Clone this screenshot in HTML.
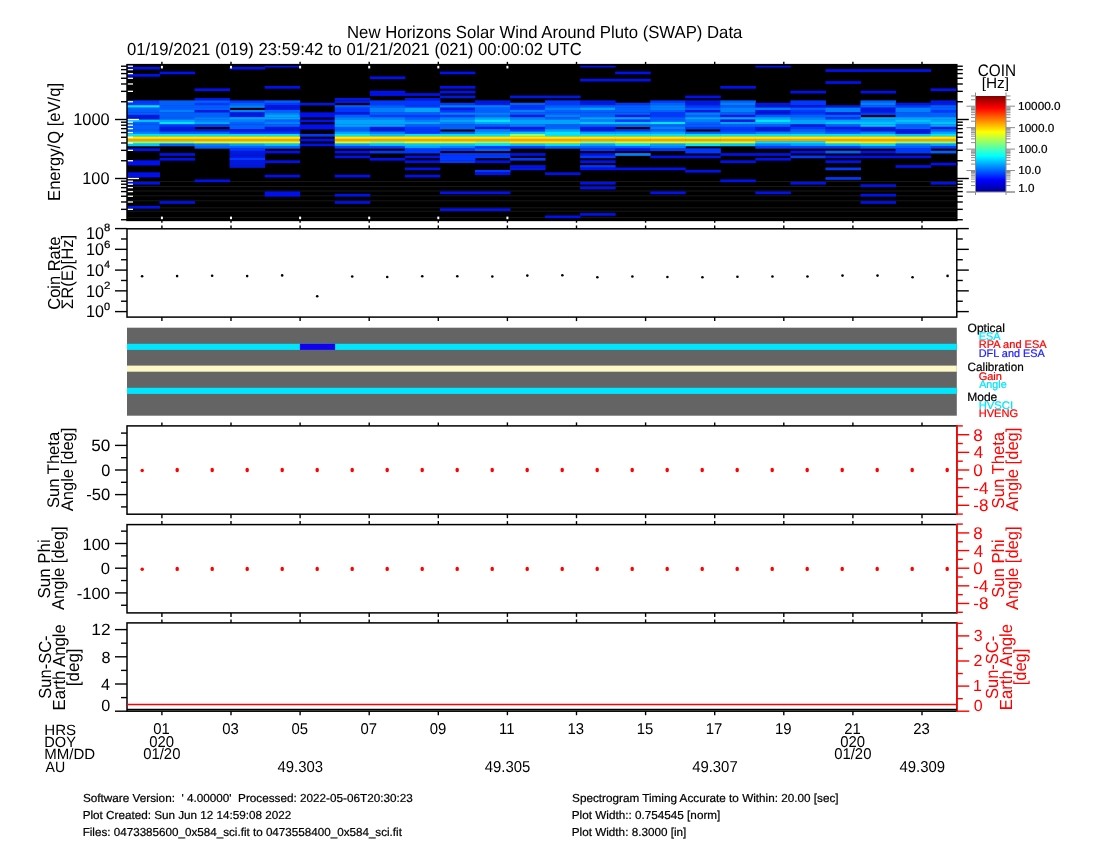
<!DOCTYPE html>
<html><head><meta charset="utf-8"><title>SWAP</title>
<style>html,body{margin:0;padding:0;background:#fff;width:1100px;height:850px;overflow:hidden}
svg{display:block;font-family:"Liberation Sans",sans-serif;will-change:transform;text-rendering:geometricPrecision}</style></head>
<body><svg width="1100" height="850" viewBox="0 0 1100 850">
<rect width="1100" height="850" fill="#fff"/>
<rect x="127.00" y="64.65" width="829.80" height="155.75" fill="#000"/>
<line x1="127.00" y1="181.50" x2="956.80" y2="181.50" stroke="#181818" stroke-width="1.0"/>
<line x1="127.00" y1="186.50" x2="956.80" y2="186.50" stroke="#181818" stroke-width="1.0"/>
<line x1="127.00" y1="191.00" x2="956.80" y2="191.00" stroke="#181818" stroke-width="1.0"/>
<line x1="127.00" y1="195.80" x2="956.80" y2="195.80" stroke="#181818" stroke-width="1.0"/>
<line x1="127.00" y1="200.80" x2="956.80" y2="200.80" stroke="#181818" stroke-width="1.0"/>
<line x1="127.00" y1="207.80" x2="956.80" y2="207.80" stroke="#181818" stroke-width="1.0"/>
<line x1="127.00" y1="211.20" x2="956.80" y2="211.20" stroke="#181818" stroke-width="1.0"/>
<line x1="127.00" y1="217.60" x2="956.80" y2="217.60" stroke="#181818" stroke-width="1.0"/>
<g><rect x="127.00" y="66.80" width="33.00" height="2.698" fill="#0010f0"/><rect x="127.00" y="73.99" width="33.00" height="2.698" fill="#0010f0"/><rect x="127.00" y="100.37" width="33.00" height="2.698" fill="#0038ff"/><rect x="127.00" y="102.77" width="33.00" height="2.698" fill="#0038ff"/><rect x="127.00" y="105.17" width="33.00" height="2.698" fill="#00e4ff"/><rect x="127.00" y="107.56" width="33.00" height="2.698" fill="#0060ff"/><rect x="127.00" y="109.96" width="33.00" height="2.698" fill="#0060ff"/><rect x="127.00" y="112.36" width="33.00" height="2.698" fill="#0060ff"/><rect x="127.00" y="114.76" width="33.00" height="2.698" fill="#0018e0"/><rect x="127.00" y="117.16" width="33.00" height="2.698" fill="#0018e0"/><rect x="127.00" y="119.55" width="33.00" height="2.698" fill="#00c4ff"/><rect x="127.00" y="121.95" width="33.00" height="2.698" fill="#0060ff"/><rect x="127.00" y="124.35" width="33.00" height="2.698" fill="#0060ff"/><rect x="127.00" y="126.75" width="33.00" height="2.698" fill="#0060ff"/><rect x="127.00" y="129.15" width="33.00" height="2.698" fill="#0060ff"/><rect x="127.00" y="131.54" width="33.00" height="2.698" fill="#0080ff"/><rect x="127.00" y="133.94" width="33.00" height="2.698" fill="#00e4ff"/><rect x="127.00" y="136.34" width="33.00" height="2.698" fill="#ffee00"/><rect x="127.00" y="138.74" width="33.00" height="2.698" fill="#ff9c00"/><rect x="127.00" y="141.14" width="33.00" height="2.698" fill="#90ff70"/><rect x="127.00" y="143.53" width="33.00" height="2.698" fill="#00c4ff"/><rect x="127.00" y="148.33" width="33.00" height="2.698" fill="#0010f0"/><rect x="127.00" y="160.32" width="33.00" height="2.698" fill="#0010f0"/><rect x="127.00" y="162.72" width="33.00" height="2.698" fill="#0010f0"/><rect x="127.00" y="172.31" width="33.00" height="2.698" fill="#0010f0"/><rect x="127.00" y="174.71" width="33.00" height="2.698" fill="#0010f0"/><rect x="127.00" y="181.90" width="33.00" height="2.698" fill="#0010f0"/><rect x="127.00" y="205.88" width="33.00" height="2.698" fill="#0010f0"/><rect x="159.50" y="71.59" width="35.55" height="2.698" fill="#0010f0"/><rect x="159.50" y="100.37" width="35.55" height="2.698" fill="#0060ff"/><rect x="159.50" y="102.77" width="35.55" height="2.698" fill="#0060ff"/><rect x="159.50" y="105.17" width="35.55" height="2.698" fill="#0060ff"/><rect x="159.50" y="107.56" width="35.55" height="2.698" fill="#0060ff"/><rect x="159.50" y="109.96" width="35.55" height="2.698" fill="#0080ff"/><rect x="159.50" y="112.36" width="35.55" height="2.698" fill="#0060ff"/><rect x="159.50" y="114.76" width="35.55" height="2.698" fill="#0060ff"/><rect x="159.50" y="117.16" width="35.55" height="2.698" fill="#0060ff"/><rect x="159.50" y="119.55" width="35.55" height="2.698" fill="#00a4ff"/><rect x="159.50" y="121.95" width="35.55" height="2.698" fill="#00e4ff"/><rect x="159.50" y="124.35" width="35.55" height="2.698" fill="#0038ff"/><rect x="159.50" y="126.75" width="35.55" height="2.698" fill="#0018e0"/><rect x="159.50" y="129.15" width="35.55" height="2.698" fill="#0018e0"/><rect x="159.50" y="131.54" width="35.55" height="2.698" fill="#0060ff"/><rect x="159.50" y="133.94" width="35.55" height="2.698" fill="#00e4ff"/><rect x="159.50" y="136.34" width="35.55" height="2.698" fill="#ffee00"/><rect x="159.50" y="138.74" width="35.55" height="2.698" fill="#ff9c00"/><rect x="159.50" y="141.14" width="35.55" height="2.698" fill="#90ff70"/><rect x="159.50" y="143.53" width="35.55" height="2.698" fill="#0060ff"/><rect x="159.50" y="153.13" width="35.55" height="2.698" fill="#0010f0"/><rect x="159.50" y="157.92" width="35.55" height="2.698" fill="#0010f0"/><rect x="159.50" y="201.09" width="35.55" height="2.698" fill="#0010f0"/><rect x="194.55" y="88.38" width="35.55" height="2.698" fill="#0010f0"/><rect x="194.55" y="97.97" width="35.55" height="2.698" fill="#0018e0"/><rect x="194.55" y="100.37" width="35.55" height="2.698" fill="#0060ff"/><rect x="194.55" y="102.77" width="35.55" height="2.698" fill="#0038ff"/><rect x="194.55" y="105.17" width="35.55" height="2.698" fill="#0060ff"/><rect x="194.55" y="107.56" width="35.55" height="2.698" fill="#0060ff"/><rect x="194.55" y="109.96" width="35.55" height="2.698" fill="#0018e0"/><rect x="194.55" y="112.36" width="35.55" height="2.698" fill="#0060ff"/><rect x="194.55" y="114.76" width="35.55" height="2.698" fill="#0060ff"/><rect x="194.55" y="117.16" width="35.55" height="2.698" fill="#0080ff"/><rect x="194.55" y="119.55" width="35.55" height="2.698" fill="#0080ff"/><rect x="194.55" y="121.95" width="35.55" height="2.698" fill="#00a4ff"/><rect x="194.55" y="124.35" width="35.55" height="2.698" fill="#0038ff"/><rect x="194.55" y="129.15" width="35.55" height="2.698" fill="#0018e0"/><rect x="194.55" y="131.54" width="35.55" height="2.698" fill="#0060ff"/><rect x="194.55" y="133.94" width="35.55" height="2.698" fill="#00e4ff"/><rect x="194.55" y="136.34" width="35.55" height="2.698" fill="#ffee00"/><rect x="194.55" y="138.74" width="35.55" height="2.698" fill="#ff9c00"/><rect x="194.55" y="141.14" width="35.55" height="2.698" fill="#d0ff30"/><rect x="194.55" y="143.53" width="35.55" height="2.698" fill="#0080ff"/><rect x="194.55" y="145.93" width="35.55" height="2.698" fill="#0060ff"/><rect x="194.55" y="179.50" width="35.55" height="2.698" fill="#0010f0"/><rect x="229.60" y="66.80" width="35.55" height="2.698" fill="#0010f0"/><rect x="229.60" y="100.37" width="35.55" height="2.698" fill="#0038ff"/><rect x="229.60" y="102.77" width="35.55" height="2.698" fill="#0060ff"/><rect x="229.60" y="105.17" width="35.55" height="2.698" fill="#0080ff"/><rect x="229.60" y="109.96" width="35.55" height="2.698" fill="#0080ff"/><rect x="229.60" y="112.36" width="35.55" height="2.698" fill="#0018e0"/><rect x="229.60" y="114.76" width="35.55" height="2.698" fill="#0018e0"/><rect x="229.60" y="117.16" width="35.55" height="2.698" fill="#00a4ff"/><rect x="229.60" y="119.55" width="35.55" height="2.698" fill="#0080ff"/><rect x="229.60" y="121.95" width="35.55" height="2.698" fill="#0060ff"/><rect x="229.60" y="124.35" width="35.55" height="2.698" fill="#0060ff"/><rect x="229.60" y="126.75" width="35.55" height="2.698" fill="#0060ff"/><rect x="229.60" y="129.15" width="35.55" height="2.698" fill="#0018e0"/><rect x="229.60" y="131.54" width="35.55" height="2.698" fill="#0038ff"/><rect x="229.60" y="133.94" width="35.55" height="2.698" fill="#00e4ff"/><rect x="229.60" y="136.34" width="35.55" height="2.698" fill="#ffee00"/><rect x="229.60" y="138.74" width="35.55" height="2.698" fill="#ff9c00"/><rect x="229.60" y="141.14" width="35.55" height="2.698" fill="#d0ff30"/><rect x="229.60" y="143.53" width="35.55" height="2.698" fill="#00a4ff"/><rect x="229.60" y="145.93" width="35.55" height="2.698" fill="#0060ff"/><rect x="229.60" y="148.33" width="35.55" height="2.698" fill="#0038ff"/><rect x="229.60" y="150.73" width="35.55" height="2.698" fill="#0018e0"/><rect x="229.60" y="153.13" width="35.55" height="2.698" fill="#0018e0"/><rect x="229.60" y="155.52" width="35.55" height="2.698" fill="#0018e0"/><rect x="229.60" y="157.92" width="35.55" height="2.698" fill="#0038ff"/><rect x="229.60" y="160.32" width="35.55" height="2.698" fill="#0018e0"/><rect x="229.60" y="162.72" width="35.55" height="2.698" fill="#0018e0"/><rect x="229.60" y="165.12" width="35.55" height="2.698" fill="#0018e0"/><rect x="264.65" y="65.60" width="35.55" height="1.900" fill="#0010f0"/><rect x="264.65" y="85.98" width="35.55" height="2.698" fill="#0010f0"/><rect x="264.65" y="100.37" width="35.55" height="2.698" fill="#0060ff"/><rect x="264.65" y="102.77" width="35.55" height="2.698" fill="#0038ff"/><rect x="264.65" y="105.17" width="35.55" height="2.698" fill="#0018e0"/><rect x="264.65" y="107.56" width="35.55" height="2.698" fill="#0018e0"/><rect x="264.65" y="109.96" width="35.55" height="2.698" fill="#0060ff"/><rect x="264.65" y="112.36" width="35.55" height="2.698" fill="#0080ff"/><rect x="264.65" y="114.76" width="35.55" height="2.698" fill="#00a4ff"/><rect x="264.65" y="117.16" width="35.55" height="2.698" fill="#00a4ff"/><rect x="264.65" y="119.55" width="35.55" height="2.698" fill="#0060ff"/><rect x="264.65" y="121.95" width="35.55" height="2.698" fill="#0080ff"/><rect x="264.65" y="124.35" width="35.55" height="2.698" fill="#0060ff"/><rect x="264.65" y="126.75" width="35.55" height="2.698" fill="#0018e0"/><rect x="264.65" y="129.15" width="35.55" height="2.698" fill="#0018e0"/><rect x="264.65" y="131.54" width="35.55" height="2.698" fill="#0038ff"/><rect x="264.65" y="133.94" width="35.55" height="2.698" fill="#00e4ff"/><rect x="264.65" y="136.34" width="35.55" height="2.698" fill="#ffee00"/><rect x="264.65" y="138.74" width="35.55" height="2.698" fill="#ff9c00"/><rect x="264.65" y="141.14" width="35.55" height="2.698" fill="#d0ff30"/><rect x="264.65" y="143.53" width="35.55" height="2.698" fill="#00c4ff"/><rect x="264.65" y="145.93" width="35.55" height="2.698" fill="#0060ff"/><rect x="264.65" y="150.73" width="35.55" height="2.698" fill="#0010f0"/><rect x="264.65" y="160.32" width="35.55" height="2.698" fill="#0010f0"/><rect x="264.65" y="174.71" width="35.55" height="2.698" fill="#0010f0"/><rect x="264.65" y="191.49" width="35.55" height="2.698" fill="#0010f0"/><rect x="264.65" y="193.89" width="35.55" height="2.698" fill="#0010f0"/><rect x="299.70" y="102.77" width="35.55" height="2.698" fill="#0018e0"/><rect x="299.70" y="112.36" width="35.55" height="2.698" fill="#0010f0"/><rect x="299.70" y="114.76" width="35.55" height="2.698" fill="#0010f0"/><rect x="299.70" y="119.55" width="35.55" height="2.698" fill="#0010f0"/><rect x="299.70" y="124.35" width="35.55" height="2.698" fill="#0010f0"/><rect x="299.70" y="126.75" width="35.55" height="2.698" fill="#0010f0"/><rect x="299.70" y="133.94" width="35.55" height="2.698" fill="#0038ff"/><rect x="299.70" y="138.74" width="35.55" height="2.698" fill="#0010f0"/><rect x="299.70" y="143.53" width="35.55" height="2.698" fill="#0010f0"/><rect x="334.75" y="97.97" width="35.55" height="2.698" fill="#0018e0"/><rect x="334.75" y="100.37" width="35.55" height="2.698" fill="#0018e0"/><rect x="334.75" y="105.17" width="35.55" height="2.698" fill="#0060ff"/><rect x="334.75" y="107.56" width="35.55" height="2.698" fill="#0038ff"/><rect x="334.75" y="109.96" width="35.55" height="2.698" fill="#0038ff"/><rect x="334.75" y="112.36" width="35.55" height="2.698" fill="#0018e0"/><rect x="334.75" y="114.76" width="35.55" height="2.698" fill="#0060ff"/><rect x="334.75" y="117.16" width="35.55" height="2.698" fill="#0080ff"/><rect x="334.75" y="119.55" width="35.55" height="2.698" fill="#00a4ff"/><rect x="334.75" y="121.95" width="35.55" height="2.698" fill="#00a4ff"/><rect x="334.75" y="124.35" width="35.55" height="2.698" fill="#00a4ff"/><rect x="334.75" y="126.75" width="35.55" height="2.698" fill="#0060ff"/><rect x="334.75" y="129.15" width="35.55" height="2.698" fill="#0060ff"/><rect x="334.75" y="131.54" width="35.55" height="2.698" fill="#00a4ff"/><rect x="334.75" y="133.94" width="35.55" height="2.698" fill="#00e4ff"/><rect x="334.75" y="136.34" width="35.55" height="2.698" fill="#ffee00"/><rect x="334.75" y="138.74" width="35.55" height="2.698" fill="#ff9c00"/><rect x="334.75" y="141.14" width="35.55" height="2.698" fill="#d0ff30"/><rect x="334.75" y="143.53" width="35.55" height="2.698" fill="#00a4ff"/><rect x="334.75" y="145.93" width="35.55" height="2.698" fill="#0038ff"/><rect x="334.75" y="150.73" width="35.55" height="2.698" fill="#0010f0"/><rect x="334.75" y="155.52" width="35.55" height="2.698" fill="#0010f0"/><rect x="334.75" y="174.71" width="35.55" height="2.698" fill="#0010f0"/><rect x="334.75" y="193.89" width="35.55" height="2.698" fill="#0010f0"/><rect x="334.75" y="201.09" width="35.55" height="2.698" fill="#0010f0"/><rect x="369.80" y="76.39" width="35.55" height="2.698" fill="#0010f0"/><rect x="369.80" y="90.78" width="35.55" height="2.698" fill="#0010f0"/><rect x="369.80" y="93.18" width="35.55" height="2.698" fill="#0010f0"/><rect x="369.80" y="100.37" width="35.55" height="2.698" fill="#0038ff"/><rect x="369.80" y="102.77" width="35.55" height="2.698" fill="#0038ff"/><rect x="369.80" y="105.17" width="35.55" height="2.698" fill="#0060ff"/><rect x="369.80" y="107.56" width="35.55" height="2.698" fill="#0080ff"/><rect x="369.80" y="109.96" width="35.55" height="2.698" fill="#0080ff"/><rect x="369.80" y="112.36" width="35.55" height="2.698" fill="#0060ff"/><rect x="369.80" y="114.76" width="35.55" height="2.698" fill="#0038ff"/><rect x="369.80" y="117.16" width="35.55" height="2.698" fill="#0080ff"/><rect x="369.80" y="119.55" width="35.55" height="2.698" fill="#00a4ff"/><rect x="369.80" y="121.95" width="35.55" height="2.698" fill="#00a4ff"/><rect x="369.80" y="124.35" width="35.55" height="2.698" fill="#00a4ff"/><rect x="369.80" y="126.75" width="35.55" height="2.698" fill="#0018e0"/><rect x="369.80" y="129.15" width="35.55" height="2.698" fill="#0018e0"/><rect x="369.80" y="131.54" width="35.55" height="2.698" fill="#0080ff"/><rect x="369.80" y="133.94" width="35.55" height="2.698" fill="#00c4ff"/><rect x="369.80" y="136.34" width="35.55" height="2.698" fill="#ffee00"/><rect x="369.80" y="138.74" width="35.55" height="2.698" fill="#ff9c00"/><rect x="369.80" y="141.14" width="35.55" height="2.698" fill="#90ff70"/><rect x="369.80" y="143.53" width="35.55" height="2.698" fill="#00c4ff"/><rect x="369.80" y="145.93" width="35.55" height="2.698" fill="#0038ff"/><rect x="369.80" y="150.73" width="35.55" height="2.698" fill="#0038ff"/><rect x="369.80" y="157.92" width="35.55" height="2.698" fill="#0010f0"/><rect x="404.85" y="93.18" width="35.55" height="2.698" fill="#0010f0"/><rect x="404.85" y="97.97" width="35.55" height="2.698" fill="#0018e0"/><rect x="404.85" y="100.37" width="35.55" height="2.698" fill="#0038ff"/><rect x="404.85" y="102.77" width="35.55" height="2.698" fill="#0038ff"/><rect x="404.85" y="105.17" width="35.55" height="2.698" fill="#0038ff"/><rect x="404.85" y="107.56" width="35.55" height="2.698" fill="#00a4ff"/><rect x="404.85" y="109.96" width="35.55" height="2.698" fill="#00a4ff"/><rect x="404.85" y="112.36" width="35.55" height="2.698" fill="#0060ff"/><rect x="404.85" y="114.76" width="35.55" height="2.698" fill="#0038ff"/><rect x="404.85" y="117.16" width="35.55" height="2.698" fill="#0060ff"/><rect x="404.85" y="119.55" width="35.55" height="2.698" fill="#0080ff"/><rect x="404.85" y="121.95" width="35.55" height="2.698" fill="#00a4ff"/><rect x="404.85" y="124.35" width="35.55" height="2.698" fill="#0060ff"/><rect x="404.85" y="126.75" width="35.55" height="2.698" fill="#0038ff"/><rect x="404.85" y="129.15" width="35.55" height="2.698" fill="#0038ff"/><rect x="404.85" y="131.54" width="35.55" height="2.698" fill="#0038ff"/><rect x="404.85" y="133.94" width="35.55" height="2.698" fill="#00e4ff"/><rect x="404.85" y="136.34" width="35.55" height="2.698" fill="#ffee00"/><rect x="404.85" y="138.74" width="35.55" height="2.698" fill="#ff9c00"/><rect x="404.85" y="141.14" width="35.55" height="2.698" fill="#d0ff30"/><rect x="404.85" y="143.53" width="35.55" height="2.698" fill="#00c4ff"/><rect x="404.85" y="145.93" width="35.55" height="2.698" fill="#00a4ff"/><rect x="404.85" y="148.33" width="35.55" height="2.698" fill="#0038ff"/><rect x="404.85" y="150.73" width="35.55" height="2.698" fill="#0038ff"/><rect x="404.85" y="155.52" width="35.55" height="2.698" fill="#0010f0"/><rect x="404.85" y="160.32" width="35.55" height="2.698" fill="#0010f0"/><rect x="404.85" y="167.51" width="35.55" height="2.698" fill="#0010f0"/><rect x="404.85" y="174.71" width="35.55" height="2.698" fill="#0010f0"/><rect x="439.90" y="71.59" width="35.55" height="2.698" fill="#0010f0"/><rect x="439.90" y="85.98" width="35.55" height="2.698" fill="#0010f0"/><rect x="439.90" y="90.78" width="35.55" height="2.698" fill="#0010f0"/><rect x="439.90" y="95.57" width="35.55" height="2.698" fill="#0018e0"/><rect x="439.90" y="102.77" width="35.55" height="2.698" fill="#0038ff"/><rect x="439.90" y="105.17" width="35.55" height="2.698" fill="#0080ff"/><rect x="439.90" y="107.56" width="35.55" height="2.698" fill="#0018e0"/><rect x="439.90" y="109.96" width="35.55" height="2.698" fill="#0038ff"/><rect x="439.90" y="112.36" width="35.55" height="2.698" fill="#0080ff"/><rect x="439.90" y="114.76" width="35.55" height="2.698" fill="#0038ff"/><rect x="439.90" y="117.16" width="35.55" height="2.698" fill="#0080ff"/><rect x="439.90" y="119.55" width="35.55" height="2.698" fill="#00a4ff"/><rect x="439.90" y="121.95" width="35.55" height="2.698" fill="#0080ff"/><rect x="439.90" y="124.35" width="35.55" height="2.698" fill="#0060ff"/><rect x="439.90" y="126.75" width="35.55" height="2.698" fill="#0060ff"/><rect x="439.90" y="131.54" width="35.55" height="2.698" fill="#0060ff"/><rect x="439.90" y="133.94" width="35.55" height="2.698" fill="#00e4ff"/><rect x="439.90" y="136.34" width="35.55" height="2.698" fill="#ffee00"/><rect x="439.90" y="138.74" width="35.55" height="2.698" fill="#ff9c00"/><rect x="439.90" y="141.14" width="35.55" height="2.698" fill="#d0ff30"/><rect x="439.90" y="143.53" width="35.55" height="2.698" fill="#00c4ff"/><rect x="439.90" y="145.93" width="35.55" height="2.698" fill="#0080ff"/><rect x="439.90" y="148.33" width="35.55" height="2.698" fill="#0038ff"/><rect x="439.90" y="153.13" width="35.55" height="2.698" fill="#0038ff"/><rect x="439.90" y="155.52" width="35.55" height="2.698" fill="#0038ff"/><rect x="439.90" y="157.92" width="35.55" height="2.698" fill="#0038ff"/><rect x="439.90" y="160.32" width="35.55" height="2.698" fill="#0038ff"/><rect x="439.90" y="191.49" width="35.55" height="2.698" fill="#0010f0"/><rect x="439.90" y="208.28" width="35.55" height="2.698" fill="#0010f0"/><rect x="474.95" y="100.37" width="35.55" height="2.698" fill="#0018e0"/><rect x="474.95" y="102.77" width="35.55" height="2.698" fill="#0018e0"/><rect x="474.95" y="105.17" width="35.55" height="2.698" fill="#0080ff"/><rect x="474.95" y="107.56" width="35.55" height="2.698" fill="#0060ff"/><rect x="474.95" y="109.96" width="35.55" height="2.698" fill="#0060ff"/><rect x="474.95" y="112.36" width="35.55" height="2.698" fill="#0080ff"/><rect x="474.95" y="114.76" width="35.55" height="2.698" fill="#0060ff"/><rect x="474.95" y="117.16" width="35.55" height="2.698" fill="#00a4ff"/><rect x="474.95" y="119.55" width="35.55" height="2.698" fill="#00e4ff"/><rect x="474.95" y="121.95" width="35.55" height="2.698" fill="#00a4ff"/><rect x="474.95" y="124.35" width="35.55" height="2.698" fill="#0060ff"/><rect x="474.95" y="126.75" width="35.55" height="2.698" fill="#0018e0"/><rect x="474.95" y="129.15" width="35.55" height="2.698" fill="#0080ff"/><rect x="474.95" y="131.54" width="35.55" height="2.698" fill="#00a4ff"/><rect x="474.95" y="133.94" width="35.55" height="2.698" fill="#00e4ff"/><rect x="474.95" y="136.34" width="35.55" height="2.698" fill="#ffee00"/><rect x="474.95" y="138.74" width="35.55" height="2.698" fill="#ff9c00"/><rect x="474.95" y="141.14" width="35.55" height="2.698" fill="#90ff70"/><rect x="474.95" y="143.53" width="35.55" height="2.698" fill="#00e4ff"/><rect x="474.95" y="145.93" width="35.55" height="2.698" fill="#0038ff"/><rect x="474.95" y="148.33" width="35.55" height="2.698" fill="#0060ff"/><rect x="474.95" y="153.13" width="35.55" height="2.698" fill="#0038ff"/><rect x="474.95" y="155.52" width="35.55" height="2.698" fill="#0038ff"/><rect x="474.95" y="160.32" width="35.55" height="2.698" fill="#0010f0"/><rect x="474.95" y="169.91" width="35.55" height="2.698" fill="#0038ff"/><rect x="474.95" y="172.31" width="35.55" height="2.698" fill="#0010f0"/><rect x="474.95" y="191.49" width="35.55" height="2.698" fill="#0010f0"/><rect x="474.95" y="208.28" width="35.55" height="2.698" fill="#0010f0"/><rect x="510.00" y="95.57" width="35.55" height="2.698" fill="#0018e0"/><rect x="510.00" y="102.77" width="35.55" height="2.698" fill="#0060ff"/><rect x="510.00" y="105.17" width="35.55" height="2.698" fill="#0038ff"/><rect x="510.00" y="107.56" width="35.55" height="2.698" fill="#0038ff"/><rect x="510.00" y="109.96" width="35.55" height="2.698" fill="#0080ff"/><rect x="510.00" y="112.36" width="35.55" height="2.698" fill="#0060ff"/><rect x="510.00" y="114.76" width="35.55" height="2.698" fill="#0018e0"/><rect x="510.00" y="117.16" width="35.55" height="2.698" fill="#0080ff"/><rect x="510.00" y="119.55" width="35.55" height="2.698" fill="#00a4ff"/><rect x="510.00" y="121.95" width="35.55" height="2.698" fill="#00a4ff"/><rect x="510.00" y="124.35" width="35.55" height="2.698" fill="#0080ff"/><rect x="510.00" y="126.75" width="35.55" height="2.698" fill="#0018e0"/><rect x="510.00" y="129.15" width="35.55" height="2.698" fill="#0038ff"/><rect x="510.00" y="131.54" width="35.55" height="2.698" fill="#00c4ff"/><rect x="510.00" y="133.94" width="35.55" height="2.698" fill="#90ff70"/><rect x="510.00" y="136.34" width="35.55" height="2.698" fill="#ffee00"/><rect x="510.00" y="138.74" width="35.55" height="2.698" fill="#ff9c00"/><rect x="510.00" y="141.14" width="35.55" height="2.698" fill="#ffee00"/><rect x="510.00" y="143.53" width="35.55" height="2.698" fill="#00c4ff"/><rect x="510.00" y="145.93" width="35.55" height="2.698" fill="#0038ff"/><rect x="510.00" y="153.13" width="35.55" height="2.698" fill="#0010f0"/><rect x="510.00" y="157.92" width="35.55" height="2.698" fill="#0038ff"/><rect x="510.00" y="165.12" width="35.55" height="2.698" fill="#0010f0"/><rect x="510.00" y="167.51" width="35.55" height="2.698" fill="#0018e0"/><rect x="545.05" y="95.57" width="35.55" height="2.698" fill="#0018e0"/><rect x="545.05" y="100.37" width="35.55" height="2.698" fill="#0038ff"/><rect x="545.05" y="102.77" width="35.55" height="2.698" fill="#0038ff"/><rect x="545.05" y="105.17" width="35.55" height="2.698" fill="#0060ff"/><rect x="545.05" y="107.56" width="35.55" height="2.698" fill="#0080ff"/><rect x="545.05" y="109.96" width="35.55" height="2.698" fill="#0060ff"/><rect x="545.05" y="112.36" width="35.55" height="2.698" fill="#0060ff"/><rect x="545.05" y="114.76" width="35.55" height="2.698" fill="#0080ff"/><rect x="545.05" y="117.16" width="35.55" height="2.698" fill="#0060ff"/><rect x="545.05" y="119.55" width="35.55" height="2.698" fill="#00a4ff"/><rect x="545.05" y="121.95" width="35.55" height="2.698" fill="#00a4ff"/><rect x="545.05" y="124.35" width="35.55" height="2.698" fill="#0060ff"/><rect x="545.05" y="126.75" width="35.55" height="2.698" fill="#0060ff"/><rect x="545.05" y="129.15" width="35.55" height="2.698" fill="#00a4ff"/><rect x="545.05" y="131.54" width="35.55" height="2.698" fill="#00e4ff"/><rect x="545.05" y="133.94" width="35.55" height="2.698" fill="#00e4ff"/><rect x="545.05" y="136.34" width="35.55" height="2.698" fill="#ffee00"/><rect x="545.05" y="138.74" width="35.55" height="2.698" fill="#ff9c00"/><rect x="545.05" y="141.14" width="35.55" height="2.698" fill="#ffee00"/><rect x="545.05" y="143.53" width="35.55" height="2.698" fill="#00e4ff"/><rect x="545.05" y="145.93" width="35.55" height="2.698" fill="#0060ff"/><rect x="545.05" y="172.31" width="35.55" height="2.698" fill="#0010f0"/><rect x="545.05" y="215.47" width="35.55" height="2.698" fill="#0010f0"/><rect x="580.10" y="65.60" width="35.55" height="1.900" fill="#0010f0"/><rect x="580.10" y="78.79" width="35.55" height="2.698" fill="#0010f0"/><rect x="580.10" y="100.37" width="35.55" height="2.698" fill="#0018e0"/><rect x="580.10" y="102.77" width="35.55" height="2.698" fill="#0018e0"/><rect x="580.10" y="105.17" width="35.55" height="2.698" fill="#0060ff"/><rect x="580.10" y="107.56" width="35.55" height="2.698" fill="#00a4ff"/><rect x="580.10" y="109.96" width="35.55" height="2.698" fill="#0060ff"/><rect x="580.10" y="112.36" width="35.55" height="2.698" fill="#0060ff"/><rect x="580.10" y="114.76" width="35.55" height="2.698" fill="#0060ff"/><rect x="580.10" y="117.16" width="35.55" height="2.698" fill="#00a4ff"/><rect x="580.10" y="119.55" width="35.55" height="2.698" fill="#0080ff"/><rect x="580.10" y="121.95" width="35.55" height="2.698" fill="#00c4ff"/><rect x="580.10" y="124.35" width="35.55" height="2.698" fill="#0060ff"/><rect x="580.10" y="126.75" width="35.55" height="2.698" fill="#0018e0"/><rect x="580.10" y="129.15" width="35.55" height="2.698" fill="#0018e0"/><rect x="580.10" y="131.54" width="35.55" height="2.698" fill="#00a4ff"/><rect x="580.10" y="133.94" width="35.55" height="2.698" fill="#00e4ff"/><rect x="580.10" y="136.34" width="35.55" height="2.698" fill="#ffee00"/><rect x="580.10" y="138.74" width="35.55" height="2.698" fill="#ff9c00"/><rect x="580.10" y="141.14" width="35.55" height="2.698" fill="#90ff70"/><rect x="580.10" y="143.53" width="35.55" height="2.698" fill="#00a4ff"/><rect x="580.10" y="145.93" width="35.55" height="2.698" fill="#0060ff"/><rect x="580.10" y="148.33" width="35.55" height="2.698" fill="#0038ff"/><rect x="580.10" y="153.13" width="35.55" height="2.698" fill="#0010f0"/><rect x="580.10" y="155.52" width="35.55" height="2.698" fill="#0038ff"/><rect x="580.10" y="160.32" width="35.55" height="2.698" fill="#0010f0"/><rect x="580.10" y="165.12" width="35.55" height="2.698" fill="#0038ff"/><rect x="580.10" y="167.51" width="35.55" height="2.698" fill="#0010f0"/><rect x="580.10" y="181.90" width="35.55" height="2.698" fill="#0010f0"/><rect x="580.10" y="186.70" width="35.55" height="2.698" fill="#0010f0"/><rect x="580.10" y="213.08" width="35.55" height="2.698" fill="#0010f0"/><rect x="615.15" y="71.59" width="35.55" height="2.698" fill="#0010f0"/><rect x="615.15" y="78.79" width="35.55" height="2.698" fill="#0010f0"/><rect x="615.15" y="102.77" width="35.55" height="2.698" fill="#0038ff"/><rect x="615.15" y="105.17" width="35.55" height="2.698" fill="#0060ff"/><rect x="615.15" y="107.56" width="35.55" height="2.698" fill="#0060ff"/><rect x="615.15" y="109.96" width="35.55" height="2.698" fill="#0060ff"/><rect x="615.15" y="112.36" width="35.55" height="2.698" fill="#0060ff"/><rect x="615.15" y="114.76" width="35.55" height="2.698" fill="#0018e0"/><rect x="615.15" y="117.16" width="35.55" height="2.698" fill="#00a4ff"/><rect x="615.15" y="119.55" width="35.55" height="2.698" fill="#0038ff"/><rect x="615.15" y="121.95" width="35.55" height="2.698" fill="#00c4ff"/><rect x="615.15" y="124.35" width="35.55" height="2.698" fill="#0060ff"/><rect x="615.15" y="129.15" width="35.55" height="2.698" fill="#0038ff"/><rect x="615.15" y="131.54" width="35.55" height="2.698" fill="#00a4ff"/><rect x="615.15" y="133.94" width="35.55" height="2.698" fill="#00e4ff"/><rect x="615.15" y="136.34" width="35.55" height="2.698" fill="#ffee00"/><rect x="615.15" y="138.74" width="35.55" height="2.698" fill="#ff9c00"/><rect x="615.15" y="141.14" width="35.55" height="2.698" fill="#d0ff30"/><rect x="615.15" y="143.53" width="35.55" height="2.698" fill="#00e4ff"/><rect x="615.15" y="145.93" width="35.55" height="2.698" fill="#0060ff"/><rect x="615.15" y="148.33" width="35.55" height="2.698" fill="#0010f0"/><rect x="615.15" y="153.13" width="35.55" height="2.698" fill="#0080ff"/><rect x="615.15" y="167.51" width="35.55" height="2.698" fill="#0010f0"/><rect x="650.20" y="100.37" width="35.55" height="2.698" fill="#0038ff"/><rect x="650.20" y="102.77" width="35.55" height="2.698" fill="#0060ff"/><rect x="650.20" y="105.17" width="35.55" height="2.698" fill="#0080ff"/><rect x="650.20" y="107.56" width="35.55" height="2.698" fill="#0080ff"/><rect x="650.20" y="109.96" width="35.55" height="2.698" fill="#0060ff"/><rect x="650.20" y="112.36" width="35.55" height="2.698" fill="#0038ff"/><rect x="650.20" y="114.76" width="35.55" height="2.698" fill="#0038ff"/><rect x="650.20" y="117.16" width="35.55" height="2.698" fill="#0060ff"/><rect x="650.20" y="119.55" width="35.55" height="2.698" fill="#0060ff"/><rect x="650.20" y="121.95" width="35.55" height="2.698" fill="#00e4ff"/><rect x="650.20" y="124.35" width="35.55" height="2.698" fill="#0060ff"/><rect x="650.20" y="126.75" width="35.55" height="2.698" fill="#0080ff"/><rect x="650.20" y="129.15" width="35.55" height="2.698" fill="#0060ff"/><rect x="650.20" y="131.54" width="35.55" height="2.698" fill="#00a4ff"/><rect x="650.20" y="133.94" width="35.55" height="2.698" fill="#00e4ff"/><rect x="650.20" y="136.34" width="35.55" height="2.698" fill="#ffee00"/><rect x="650.20" y="138.74" width="35.55" height="2.698" fill="#ff9c00"/><rect x="650.20" y="141.14" width="35.55" height="2.698" fill="#d0ff30"/><rect x="650.20" y="143.53" width="35.55" height="2.698" fill="#00a4ff"/><rect x="650.20" y="145.93" width="35.55" height="2.698" fill="#0080ff"/><rect x="650.20" y="148.33" width="35.55" height="2.698" fill="#0038ff"/><rect x="650.20" y="155.52" width="35.55" height="2.698" fill="#0010f0"/><rect x="650.20" y="167.51" width="35.55" height="2.698" fill="#0010f0"/><rect x="650.20" y="191.49" width="35.55" height="2.698" fill="#0010f0"/><rect x="685.25" y="95.57" width="35.55" height="2.698" fill="#0010f0"/><rect x="685.25" y="100.37" width="35.55" height="2.698" fill="#0018e0"/><rect x="685.25" y="102.77" width="35.55" height="2.698" fill="#0018e0"/><rect x="685.25" y="105.17" width="35.55" height="2.698" fill="#0038ff"/><rect x="685.25" y="107.56" width="35.55" height="2.698" fill="#0060ff"/><rect x="685.25" y="109.96" width="35.55" height="2.698" fill="#0018e0"/><rect x="685.25" y="112.36" width="35.55" height="2.698" fill="#0080ff"/><rect x="685.25" y="114.76" width="35.55" height="2.698" fill="#0060ff"/><rect x="685.25" y="117.16" width="35.55" height="2.698" fill="#00a4ff"/><rect x="685.25" y="119.55" width="35.55" height="2.698" fill="#0080ff"/><rect x="685.25" y="121.95" width="35.55" height="2.698" fill="#0060ff"/><rect x="685.25" y="124.35" width="35.55" height="2.698" fill="#0060ff"/><rect x="685.25" y="126.75" width="35.55" height="2.698" fill="#0038ff"/><rect x="685.25" y="131.54" width="35.55" height="2.698" fill="#0060ff"/><rect x="685.25" y="133.94" width="35.55" height="2.698" fill="#00e4ff"/><rect x="685.25" y="136.34" width="35.55" height="2.698" fill="#d0ff30"/><rect x="685.25" y="138.74" width="35.55" height="2.698" fill="#ff9c00"/><rect x="685.25" y="141.14" width="35.55" height="2.698" fill="#d0ff30"/><rect x="685.25" y="143.53" width="35.55" height="2.698" fill="#00e4ff"/><rect x="685.25" y="148.33" width="35.55" height="2.698" fill="#0038ff"/><rect x="685.25" y="150.73" width="35.55" height="2.698" fill="#0038ff"/><rect x="685.25" y="155.52" width="35.55" height="2.698" fill="#0010f0"/><rect x="685.25" y="169.91" width="35.55" height="2.698" fill="#0010f0"/><rect x="720.30" y="85.98" width="35.55" height="2.698" fill="#0010f0"/><rect x="720.30" y="100.37" width="35.55" height="2.698" fill="#0060ff"/><rect x="720.30" y="102.77" width="35.55" height="2.698" fill="#0080ff"/><rect x="720.30" y="105.17" width="35.55" height="2.698" fill="#0060ff"/><rect x="720.30" y="107.56" width="35.55" height="2.698" fill="#0080ff"/><rect x="720.30" y="109.96" width="35.55" height="2.698" fill="#0080ff"/><rect x="720.30" y="112.36" width="35.55" height="2.698" fill="#0060ff"/><rect x="720.30" y="114.76" width="35.55" height="2.698" fill="#0018e0"/><rect x="720.30" y="117.16" width="35.55" height="2.698" fill="#00a4ff"/><rect x="720.30" y="119.55" width="35.55" height="2.698" fill="#0018e0"/><rect x="720.30" y="121.95" width="35.55" height="2.698" fill="#00a4ff"/><rect x="720.30" y="124.35" width="35.55" height="2.698" fill="#0060ff"/><rect x="720.30" y="126.75" width="35.55" height="2.698" fill="#0038ff"/><rect x="720.30" y="129.15" width="35.55" height="2.698" fill="#0038ff"/><rect x="720.30" y="131.54" width="35.55" height="2.698" fill="#0060ff"/><rect x="720.30" y="133.94" width="35.55" height="2.698" fill="#00e4ff"/><rect x="720.30" y="136.34" width="35.55" height="2.698" fill="#ffee00"/><rect x="720.30" y="138.74" width="35.55" height="2.698" fill="#ff9c00"/><rect x="720.30" y="141.14" width="35.55" height="2.698" fill="#d0ff30"/><rect x="720.30" y="143.53" width="35.55" height="2.698" fill="#00c4ff"/><rect x="720.30" y="153.13" width="35.55" height="2.698" fill="#0010f0"/><rect x="720.30" y="160.32" width="35.55" height="2.698" fill="#0010f0"/><rect x="720.30" y="179.50" width="35.55" height="2.698" fill="#0010f0"/><rect x="755.35" y="65.60" width="35.55" height="1.900" fill="#0010f0"/><rect x="755.35" y="102.77" width="35.55" height="2.698" fill="#0018e0"/><rect x="755.35" y="105.17" width="35.55" height="2.698" fill="#0018e0"/><rect x="755.35" y="107.56" width="35.55" height="2.698" fill="#0080ff"/><rect x="755.35" y="109.96" width="35.55" height="2.698" fill="#0018e0"/><rect x="755.35" y="112.36" width="35.55" height="2.698" fill="#0018e0"/><rect x="755.35" y="114.76" width="35.55" height="2.698" fill="#0060ff"/><rect x="755.35" y="117.16" width="35.55" height="2.698" fill="#00a4ff"/><rect x="755.35" y="119.55" width="35.55" height="2.698" fill="#00e4ff"/><rect x="755.35" y="121.95" width="35.55" height="2.698" fill="#00a4ff"/><rect x="755.35" y="124.35" width="35.55" height="2.698" fill="#0060ff"/><rect x="755.35" y="126.75" width="35.55" height="2.698" fill="#0018e0"/><rect x="755.35" y="129.15" width="35.55" height="2.698" fill="#0018e0"/><rect x="755.35" y="131.54" width="35.55" height="2.698" fill="#0080ff"/><rect x="755.35" y="133.94" width="35.55" height="2.698" fill="#00e4ff"/><rect x="755.35" y="136.34" width="35.55" height="2.698" fill="#ffee00"/><rect x="755.35" y="138.74" width="35.55" height="2.698" fill="#ff9c00"/><rect x="755.35" y="141.14" width="35.55" height="2.698" fill="#00e4ff"/><rect x="755.35" y="143.53" width="35.55" height="2.698" fill="#0080ff"/><rect x="755.35" y="145.93" width="35.55" height="2.698" fill="#0038ff"/><rect x="755.35" y="153.13" width="35.55" height="2.698" fill="#0010f0"/><rect x="755.35" y="157.92" width="35.55" height="2.698" fill="#0010f0"/><rect x="755.35" y="191.49" width="35.55" height="2.698" fill="#0010f0"/><rect x="790.40" y="90.78" width="35.55" height="2.698" fill="#0010f0"/><rect x="790.40" y="100.37" width="35.55" height="2.698" fill="#0038ff"/><rect x="790.40" y="102.77" width="35.55" height="2.698" fill="#0038ff"/><rect x="790.40" y="105.17" width="35.55" height="2.698" fill="#0018e0"/><rect x="790.40" y="107.56" width="35.55" height="2.698" fill="#0060ff"/><rect x="790.40" y="109.96" width="35.55" height="2.698" fill="#0038ff"/><rect x="790.40" y="112.36" width="35.55" height="2.698" fill="#0038ff"/><rect x="790.40" y="114.76" width="35.55" height="2.698" fill="#0060ff"/><rect x="790.40" y="117.16" width="35.55" height="2.698" fill="#0080ff"/><rect x="790.40" y="119.55" width="35.55" height="2.698" fill="#00a4ff"/><rect x="790.40" y="121.95" width="35.55" height="2.698" fill="#00a4ff"/><rect x="790.40" y="124.35" width="35.55" height="2.698" fill="#0018e0"/><rect x="790.40" y="126.75" width="35.55" height="2.698" fill="#0038ff"/><rect x="790.40" y="129.15" width="35.55" height="2.698" fill="#0060ff"/><rect x="790.40" y="131.54" width="35.55" height="2.698" fill="#0080ff"/><rect x="790.40" y="133.94" width="35.55" height="2.698" fill="#00e4ff"/><rect x="790.40" y="136.34" width="35.55" height="2.698" fill="#ffee00"/><rect x="790.40" y="138.74" width="35.55" height="2.698" fill="#ff9c00"/><rect x="790.40" y="141.14" width="35.55" height="2.698" fill="#00e4ff"/><rect x="790.40" y="143.53" width="35.55" height="2.698" fill="#00a4ff"/><rect x="790.40" y="145.93" width="35.55" height="2.698" fill="#0038ff"/><rect x="790.40" y="150.73" width="35.55" height="2.698" fill="#0010f0"/><rect x="790.40" y="155.52" width="35.55" height="2.698" fill="#0038ff"/><rect x="790.40" y="181.90" width="35.55" height="2.698" fill="#0010f0"/><rect x="825.45" y="69.20" width="35.55" height="2.698" fill="#0010f0"/><rect x="825.45" y="81.19" width="35.55" height="2.698" fill="#0010f0"/><rect x="825.45" y="105.17" width="35.55" height="2.698" fill="#0018e0"/><rect x="825.45" y="107.56" width="35.55" height="2.698" fill="#0080ff"/><rect x="825.45" y="109.96" width="35.55" height="2.698" fill="#0080ff"/><rect x="825.45" y="112.36" width="35.55" height="2.698" fill="#0018e0"/><rect x="825.45" y="114.76" width="35.55" height="2.698" fill="#0060ff"/><rect x="825.45" y="117.16" width="35.55" height="2.698" fill="#0038ff"/><rect x="825.45" y="119.55" width="35.55" height="2.698" fill="#00a4ff"/><rect x="825.45" y="121.95" width="35.55" height="2.698" fill="#00c4ff"/><rect x="825.45" y="124.35" width="35.55" height="2.698" fill="#0060ff"/><rect x="825.45" y="126.75" width="35.55" height="2.698" fill="#0018e0"/><rect x="825.45" y="129.15" width="35.55" height="2.698" fill="#0038ff"/><rect x="825.45" y="131.54" width="35.55" height="2.698" fill="#0060ff"/><rect x="825.45" y="133.94" width="35.55" height="2.698" fill="#00e4ff"/><rect x="825.45" y="136.34" width="35.55" height="2.698" fill="#ffee00"/><rect x="825.45" y="138.74" width="35.55" height="2.698" fill="#ff9c00"/><rect x="825.45" y="141.14" width="35.55" height="2.698" fill="#d0ff30"/><rect x="825.45" y="143.53" width="35.55" height="2.698" fill="#00c4ff"/><rect x="825.45" y="145.93" width="35.55" height="2.698" fill="#0038ff"/><rect x="825.45" y="150.73" width="35.55" height="2.698" fill="#0060ff"/><rect x="825.45" y="155.52" width="35.55" height="2.698" fill="#0010f0"/><rect x="825.45" y="160.32" width="35.55" height="2.698" fill="#0010f0"/><rect x="825.45" y="167.51" width="35.55" height="2.698" fill="#0038ff"/><rect x="825.45" y="177.11" width="35.55" height="2.698" fill="#0038ff"/><rect x="860.50" y="69.20" width="35.55" height="2.698" fill="#0010f0"/><rect x="860.50" y="90.78" width="35.55" height="2.698" fill="#0010f0"/><rect x="860.50" y="100.37" width="35.55" height="2.698" fill="#0060ff"/><rect x="860.50" y="102.77" width="35.55" height="2.698" fill="#0080ff"/><rect x="860.50" y="105.17" width="35.55" height="2.698" fill="#0060ff"/><rect x="860.50" y="107.56" width="35.55" height="2.698" fill="#0018e0"/><rect x="860.50" y="109.96" width="35.55" height="2.698" fill="#0018e0"/><rect x="860.50" y="112.36" width="35.55" height="2.698" fill="#0038ff"/><rect x="860.50" y="117.16" width="35.55" height="2.698" fill="#00a4ff"/><rect x="860.50" y="119.55" width="35.55" height="2.698" fill="#00a4ff"/><rect x="860.50" y="121.95" width="35.55" height="2.698" fill="#00c4ff"/><rect x="860.50" y="124.35" width="35.55" height="2.698" fill="#00c4ff"/><rect x="860.50" y="126.75" width="35.55" height="2.698" fill="#0018e0"/><rect x="860.50" y="129.15" width="35.55" height="2.698" fill="#0018e0"/><rect x="860.50" y="131.54" width="35.55" height="2.698" fill="#0080ff"/><rect x="860.50" y="133.94" width="35.55" height="2.698" fill="#00e4ff"/><rect x="860.50" y="136.34" width="35.55" height="2.698" fill="#ffee00"/><rect x="860.50" y="138.74" width="35.55" height="2.698" fill="#ff9c00"/><rect x="860.50" y="141.14" width="35.55" height="2.698" fill="#ffee00"/><rect x="860.50" y="143.53" width="35.55" height="2.698" fill="#00e4ff"/><rect x="860.50" y="145.93" width="35.55" height="2.698" fill="#0060ff"/><rect x="860.50" y="150.73" width="35.55" height="2.698" fill="#0010f0"/><rect x="860.50" y="155.52" width="35.55" height="2.698" fill="#0010f0"/><rect x="860.50" y="184.30" width="35.55" height="2.698" fill="#0010f0"/><rect x="860.50" y="193.89" width="35.55" height="2.698" fill="#0010f0"/><rect x="860.50" y="201.09" width="35.55" height="2.698" fill="#0010f0"/><rect x="895.55" y="69.20" width="35.55" height="2.698" fill="#0010f0"/><rect x="895.55" y="102.77" width="35.55" height="2.698" fill="#0018e0"/><rect x="895.55" y="105.17" width="35.55" height="2.698" fill="#0038ff"/><rect x="895.55" y="107.56" width="35.55" height="2.698" fill="#0080ff"/><rect x="895.55" y="109.96" width="35.55" height="2.698" fill="#0080ff"/><rect x="895.55" y="112.36" width="35.55" height="2.698" fill="#0060ff"/><rect x="895.55" y="114.76" width="35.55" height="2.698" fill="#0060ff"/><rect x="895.55" y="117.16" width="35.55" height="2.698" fill="#00a4ff"/><rect x="895.55" y="119.55" width="35.55" height="2.698" fill="#00c4ff"/><rect x="895.55" y="121.95" width="35.55" height="2.698" fill="#00a4ff"/><rect x="895.55" y="124.35" width="35.55" height="2.698" fill="#0060ff"/><rect x="895.55" y="126.75" width="35.55" height="2.698" fill="#0060ff"/><rect x="895.55" y="129.15" width="35.55" height="2.698" fill="#0018e0"/><rect x="895.55" y="131.54" width="35.55" height="2.698" fill="#0018e0"/><rect x="895.55" y="133.94" width="35.55" height="2.698" fill="#00c4ff"/><rect x="895.55" y="136.34" width="35.55" height="2.698" fill="#d0ff30"/><rect x="895.55" y="138.74" width="35.55" height="2.698" fill="#ff9c00"/><rect x="895.55" y="141.14" width="35.55" height="2.698" fill="#90ff70"/><rect x="895.55" y="143.53" width="35.55" height="2.698" fill="#0080ff"/><rect x="895.55" y="145.93" width="35.55" height="2.698" fill="#0060ff"/><rect x="895.55" y="148.33" width="35.55" height="2.698" fill="#0038ff"/><rect x="895.55" y="150.73" width="35.55" height="2.698" fill="#0038ff"/><rect x="895.55" y="155.52" width="35.55" height="2.698" fill="#0010f0"/><rect x="895.55" y="165.12" width="35.55" height="2.698" fill="#0010f0"/><rect x="930.60" y="88.38" width="26.70" height="2.698" fill="#0010f0"/><rect x="930.60" y="100.37" width="26.70" height="2.698" fill="#0018e0"/><rect x="930.60" y="102.77" width="26.70" height="2.698" fill="#0018e0"/><rect x="930.60" y="105.17" width="26.70" height="2.698" fill="#0060ff"/><rect x="930.60" y="107.56" width="26.70" height="2.698" fill="#0060ff"/><rect x="930.60" y="109.96" width="26.70" height="2.698" fill="#0038ff"/><rect x="930.60" y="112.36" width="26.70" height="2.698" fill="#0060ff"/><rect x="930.60" y="114.76" width="26.70" height="2.698" fill="#0060ff"/><rect x="930.60" y="117.16" width="26.70" height="2.698" fill="#00a4ff"/><rect x="930.60" y="119.55" width="26.70" height="2.698" fill="#00a4ff"/><rect x="930.60" y="121.95" width="26.70" height="2.698" fill="#00c4ff"/><rect x="930.60" y="124.35" width="26.70" height="2.698" fill="#00a4ff"/><rect x="930.60" y="126.75" width="26.70" height="2.698" fill="#0018e0"/><rect x="930.60" y="129.15" width="26.70" height="2.698" fill="#0060ff"/><rect x="930.60" y="131.54" width="26.70" height="2.698" fill="#00a4ff"/><rect x="930.60" y="133.94" width="26.70" height="2.698" fill="#00e4ff"/><rect x="930.60" y="136.34" width="26.70" height="2.698" fill="#ffee00"/><rect x="930.60" y="138.74" width="26.70" height="2.698" fill="#ff9c00"/><rect x="930.60" y="141.14" width="26.70" height="2.698" fill="#90ff70"/><rect x="930.60" y="143.53" width="26.70" height="2.698" fill="#00a4ff"/><rect x="930.60" y="145.93" width="26.70" height="2.698" fill="#0038ff"/><rect x="930.60" y="150.73" width="26.70" height="2.698" fill="#0060ff"/><rect x="930.60" y="162.72" width="26.70" height="2.698" fill="#0010f0"/><rect x="930.60" y="181.90" width="26.70" height="2.698" fill="#0010f0"/></g>
<rect x="127.0" y="64.65" width="829.80" height="155.75" fill="none" stroke="#000" stroke-width="1.5"/>
<line x1="121.00" y1="219.74" x2="127.00" y2="219.74" stroke="#000" stroke-width="1.4"/>
<line x1="956.80" y1="219.74" x2="962.80" y2="219.74" stroke="#000" stroke-width="1.4"/>
<line x1="121.00" y1="209.35" x2="127.00" y2="209.35" stroke="#000" stroke-width="1.4"/>
<line x1="956.80" y1="209.35" x2="962.80" y2="209.35" stroke="#000" stroke-width="1.4"/>
<line x1="127.80" y1="209.35" x2="133.00" y2="209.35" stroke="#fff" stroke-width="1.3"/>
<line x1="121.00" y1="201.98" x2="127.00" y2="201.98" stroke="#000" stroke-width="1.4"/>
<line x1="956.80" y1="201.98" x2="962.80" y2="201.98" stroke="#000" stroke-width="1.4"/>
<line x1="127.80" y1="201.98" x2="133.00" y2="201.98" stroke="#fff" stroke-width="1.3"/>
<line x1="121.00" y1="196.26" x2="127.00" y2="196.26" stroke="#000" stroke-width="1.4"/>
<line x1="956.80" y1="196.26" x2="962.80" y2="196.26" stroke="#000" stroke-width="1.4"/>
<line x1="127.80" y1="196.26" x2="133.00" y2="196.26" stroke="#fff" stroke-width="1.3"/>
<line x1="121.00" y1="191.59" x2="127.00" y2="191.59" stroke="#000" stroke-width="1.4"/>
<line x1="956.80" y1="191.59" x2="962.80" y2="191.59" stroke="#000" stroke-width="1.4"/>
<line x1="127.80" y1="191.59" x2="133.00" y2="191.59" stroke="#fff" stroke-width="1.3"/>
<line x1="121.00" y1="187.64" x2="127.00" y2="187.64" stroke="#000" stroke-width="1.4"/>
<line x1="956.80" y1="187.64" x2="962.80" y2="187.64" stroke="#000" stroke-width="1.4"/>
<line x1="127.80" y1="187.64" x2="133.00" y2="187.64" stroke="#fff" stroke-width="1.3"/>
<line x1="121.00" y1="184.22" x2="127.00" y2="184.22" stroke="#000" stroke-width="1.4"/>
<line x1="956.80" y1="184.22" x2="962.80" y2="184.22" stroke="#000" stroke-width="1.4"/>
<line x1="127.80" y1="184.22" x2="133.00" y2="184.22" stroke="#fff" stroke-width="1.3"/>
<line x1="121.00" y1="181.20" x2="127.00" y2="181.20" stroke="#000" stroke-width="1.4"/>
<line x1="956.80" y1="181.20" x2="962.80" y2="181.20" stroke="#000" stroke-width="1.4"/>
<line x1="127.80" y1="181.20" x2="133.00" y2="181.20" stroke="#fff" stroke-width="1.3"/>
<line x1="115.00" y1="178.50" x2="127.00" y2="178.50" stroke="#000" stroke-width="1.4"/>
<line x1="956.80" y1="178.50" x2="968.80" y2="178.50" stroke="#000" stroke-width="1.4"/>
<line x1="127.80" y1="178.50" x2="139.00" y2="178.50" stroke="#fff" stroke-width="1.3"/>
<line x1="121.00" y1="160.74" x2="127.00" y2="160.74" stroke="#000" stroke-width="1.4"/>
<line x1="956.80" y1="160.74" x2="962.80" y2="160.74" stroke="#000" stroke-width="1.4"/>
<line x1="127.80" y1="160.74" x2="133.00" y2="160.74" stroke="#fff" stroke-width="1.3"/>
<line x1="121.00" y1="150.35" x2="127.00" y2="150.35" stroke="#000" stroke-width="1.4"/>
<line x1="956.80" y1="150.35" x2="962.80" y2="150.35" stroke="#000" stroke-width="1.4"/>
<line x1="127.80" y1="150.35" x2="133.00" y2="150.35" stroke="#fff" stroke-width="1.3"/>
<line x1="121.00" y1="142.98" x2="127.00" y2="142.98" stroke="#000" stroke-width="1.4"/>
<line x1="956.80" y1="142.98" x2="962.80" y2="142.98" stroke="#000" stroke-width="1.4"/>
<line x1="127.80" y1="142.98" x2="133.00" y2="142.98" stroke="#fff" stroke-width="1.3"/>
<line x1="121.00" y1="137.26" x2="127.00" y2="137.26" stroke="#000" stroke-width="1.4"/>
<line x1="956.80" y1="137.26" x2="962.80" y2="137.26" stroke="#000" stroke-width="1.4"/>
<line x1="127.80" y1="137.26" x2="133.00" y2="137.26" stroke="#fff" stroke-width="1.3"/>
<line x1="121.00" y1="132.59" x2="127.00" y2="132.59" stroke="#000" stroke-width="1.4"/>
<line x1="956.80" y1="132.59" x2="962.80" y2="132.59" stroke="#000" stroke-width="1.4"/>
<line x1="127.80" y1="132.59" x2="133.00" y2="132.59" stroke="#fff" stroke-width="1.3"/>
<line x1="121.00" y1="128.64" x2="127.00" y2="128.64" stroke="#000" stroke-width="1.4"/>
<line x1="956.80" y1="128.64" x2="962.80" y2="128.64" stroke="#000" stroke-width="1.4"/>
<line x1="127.80" y1="128.64" x2="133.00" y2="128.64" stroke="#fff" stroke-width="1.3"/>
<line x1="121.00" y1="125.22" x2="127.00" y2="125.22" stroke="#000" stroke-width="1.4"/>
<line x1="956.80" y1="125.22" x2="962.80" y2="125.22" stroke="#000" stroke-width="1.4"/>
<line x1="127.80" y1="125.22" x2="133.00" y2="125.22" stroke="#fff" stroke-width="1.3"/>
<line x1="121.00" y1="122.20" x2="127.00" y2="122.20" stroke="#000" stroke-width="1.4"/>
<line x1="956.80" y1="122.20" x2="962.80" y2="122.20" stroke="#000" stroke-width="1.4"/>
<line x1="127.80" y1="122.20" x2="133.00" y2="122.20" stroke="#fff" stroke-width="1.3"/>
<line x1="115.00" y1="119.50" x2="127.00" y2="119.50" stroke="#000" stroke-width="1.4"/>
<line x1="956.80" y1="119.50" x2="968.80" y2="119.50" stroke="#000" stroke-width="1.4"/>
<line x1="127.80" y1="119.50" x2="139.00" y2="119.50" stroke="#fff" stroke-width="1.3"/>
<line x1="121.00" y1="101.74" x2="127.00" y2="101.74" stroke="#000" stroke-width="1.4"/>
<line x1="956.80" y1="101.74" x2="962.80" y2="101.74" stroke="#000" stroke-width="1.4"/>
<line x1="127.80" y1="101.74" x2="133.00" y2="101.74" stroke="#fff" stroke-width="1.3"/>
<line x1="121.00" y1="91.35" x2="127.00" y2="91.35" stroke="#000" stroke-width="1.4"/>
<line x1="956.80" y1="91.35" x2="962.80" y2="91.35" stroke="#000" stroke-width="1.4"/>
<line x1="127.80" y1="91.35" x2="133.00" y2="91.35" stroke="#fff" stroke-width="1.3"/>
<line x1="121.00" y1="83.98" x2="127.00" y2="83.98" stroke="#000" stroke-width="1.4"/>
<line x1="956.80" y1="83.98" x2="962.80" y2="83.98" stroke="#000" stroke-width="1.4"/>
<line x1="127.80" y1="83.98" x2="133.00" y2="83.98" stroke="#fff" stroke-width="1.3"/>
<line x1="121.00" y1="78.26" x2="127.00" y2="78.26" stroke="#000" stroke-width="1.4"/>
<line x1="956.80" y1="78.26" x2="962.80" y2="78.26" stroke="#000" stroke-width="1.4"/>
<line x1="127.80" y1="78.26" x2="133.00" y2="78.26" stroke="#fff" stroke-width="1.3"/>
<line x1="121.00" y1="73.59" x2="127.00" y2="73.59" stroke="#000" stroke-width="1.4"/>
<line x1="956.80" y1="73.59" x2="962.80" y2="73.59" stroke="#000" stroke-width="1.4"/>
<line x1="127.80" y1="73.59" x2="133.00" y2="73.59" stroke="#fff" stroke-width="1.3"/>
<line x1="121.00" y1="69.64" x2="127.00" y2="69.64" stroke="#000" stroke-width="1.4"/>
<line x1="956.80" y1="69.64" x2="962.80" y2="69.64" stroke="#000" stroke-width="1.4"/>
<line x1="127.80" y1="69.64" x2="133.00" y2="69.64" stroke="#fff" stroke-width="1.3"/>
<line x1="121.00" y1="66.22" x2="127.00" y2="66.22" stroke="#000" stroke-width="1.4"/>
<line x1="956.80" y1="66.22" x2="962.80" y2="66.22" stroke="#000" stroke-width="1.4"/>
<line x1="127.80" y1="66.22" x2="133.00" y2="66.22" stroke="#fff" stroke-width="1.3"/>
<line x1="161.90" y1="61.85" x2="161.90" y2="64.65" stroke="#000" stroke-width="1.4"/>
<line x1="161.90" y1="220.40" x2="161.90" y2="222.70" stroke="#000" stroke-width="1.4"/>
<rect x="160.90" y="65.85" width="2" height="2.6" fill="#fff"/>
<rect x="160.90" y="216.60" width="2" height="2.6" fill="#fff"/>
<line x1="231.00" y1="61.85" x2="231.00" y2="64.65" stroke="#000" stroke-width="1.4"/>
<line x1="231.00" y1="220.40" x2="231.00" y2="222.70" stroke="#000" stroke-width="1.4"/>
<rect x="230.00" y="65.85" width="2" height="2.6" fill="#fff"/>
<rect x="230.00" y="216.60" width="2" height="2.6" fill="#fff"/>
<line x1="300.10" y1="61.85" x2="300.10" y2="64.65" stroke="#000" stroke-width="1.4"/>
<line x1="300.10" y1="220.40" x2="300.10" y2="222.70" stroke="#000" stroke-width="1.4"/>
<rect x="299.10" y="65.85" width="2" height="2.6" fill="#fff"/>
<rect x="299.10" y="216.60" width="2" height="2.6" fill="#fff"/>
<line x1="369.20" y1="61.85" x2="369.20" y2="64.65" stroke="#000" stroke-width="1.4"/>
<line x1="369.20" y1="220.40" x2="369.20" y2="222.70" stroke="#000" stroke-width="1.4"/>
<rect x="368.20" y="65.85" width="2" height="2.6" fill="#fff"/>
<rect x="368.20" y="216.60" width="2" height="2.6" fill="#fff"/>
<line x1="438.30" y1="61.85" x2="438.30" y2="64.65" stroke="#000" stroke-width="1.4"/>
<line x1="438.30" y1="220.40" x2="438.30" y2="222.70" stroke="#000" stroke-width="1.4"/>
<rect x="437.30" y="65.85" width="2" height="2.6" fill="#fff"/>
<rect x="437.30" y="216.60" width="2" height="2.6" fill="#fff"/>
<line x1="507.40" y1="61.85" x2="507.40" y2="64.65" stroke="#000" stroke-width="1.4"/>
<line x1="507.40" y1="220.40" x2="507.40" y2="222.70" stroke="#000" stroke-width="1.4"/>
<rect x="506.40" y="65.85" width="2" height="2.6" fill="#fff"/>
<rect x="506.40" y="216.60" width="2" height="2.6" fill="#fff"/>
<line x1="576.50" y1="61.85" x2="576.50" y2="64.65" stroke="#000" stroke-width="1.4"/>
<line x1="576.50" y1="220.40" x2="576.50" y2="222.70" stroke="#000" stroke-width="1.4"/>
<line x1="645.60" y1="61.85" x2="645.60" y2="64.65" stroke="#000" stroke-width="1.4"/>
<line x1="645.60" y1="220.40" x2="645.60" y2="222.70" stroke="#000" stroke-width="1.4"/>
<line x1="714.70" y1="61.85" x2="714.70" y2="64.65" stroke="#000" stroke-width="1.4"/>
<line x1="714.70" y1="220.40" x2="714.70" y2="222.70" stroke="#000" stroke-width="1.4"/>
<line x1="783.80" y1="61.85" x2="783.80" y2="64.65" stroke="#000" stroke-width="1.4"/>
<line x1="783.80" y1="220.40" x2="783.80" y2="222.70" stroke="#000" stroke-width="1.4"/>
<line x1="852.90" y1="61.85" x2="852.90" y2="64.65" stroke="#000" stroke-width="1.4"/>
<line x1="852.90" y1="220.40" x2="852.90" y2="222.70" stroke="#000" stroke-width="1.4"/>
<line x1="922.00" y1="61.85" x2="922.00" y2="64.65" stroke="#000" stroke-width="1.4"/>
<line x1="922.00" y1="220.40" x2="922.00" y2="222.70" stroke="#000" stroke-width="1.4"/>
<defs><linearGradient id="jet" x1="0" y1="1" x2="0" y2="0"><stop offset="0" stop-color="#00008f"/><stop offset="0.125" stop-color="#0000ff"/><stop offset="0.375" stop-color="#00ffff"/><stop offset="0.625" stop-color="#ffff00"/><stop offset="0.875" stop-color="#ff0000"/><stop offset="1" stop-color="#800000"/></linearGradient></defs>
<rect x="975.50" y="96.00" width="30.50" height="96.00" fill="url(#jet)"/>
<line x1="966.50" y1="192.00" x2="975.50" y2="192.00" stroke="#8c8c8c" stroke-width="1.0"/>
<line x1="1006.00" y1="192.00" x2="1015.00" y2="192.00" stroke="#8c8c8c" stroke-width="1.0"/>
<line x1="971.00" y1="185.54" x2="975.50" y2="185.54" stroke="#8c8c8c" stroke-width="1.0"/>
<line x1="1006.00" y1="185.54" x2="1010.50" y2="185.54" stroke="#8c8c8c" stroke-width="1.0"/>
<line x1="971.00" y1="181.77" x2="975.50" y2="181.77" stroke="#8c8c8c" stroke-width="1.0"/>
<line x1="1006.00" y1="181.77" x2="1010.50" y2="181.77" stroke="#8c8c8c" stroke-width="1.0"/>
<line x1="971.00" y1="179.09" x2="975.50" y2="179.09" stroke="#8c8c8c" stroke-width="1.0"/>
<line x1="1006.00" y1="179.09" x2="1010.50" y2="179.09" stroke="#8c8c8c" stroke-width="1.0"/>
<line x1="971.00" y1="177.01" x2="975.50" y2="177.01" stroke="#8c8c8c" stroke-width="1.0"/>
<line x1="1006.00" y1="177.01" x2="1010.50" y2="177.01" stroke="#8c8c8c" stroke-width="1.0"/>
<line x1="971.00" y1="175.31" x2="975.50" y2="175.31" stroke="#8c8c8c" stroke-width="1.0"/>
<line x1="1006.00" y1="175.31" x2="1010.50" y2="175.31" stroke="#8c8c8c" stroke-width="1.0"/>
<line x1="971.00" y1="173.87" x2="975.50" y2="173.87" stroke="#8c8c8c" stroke-width="1.0"/>
<line x1="1006.00" y1="173.87" x2="1010.50" y2="173.87" stroke="#8c8c8c" stroke-width="1.0"/>
<line x1="971.00" y1="172.63" x2="975.50" y2="172.63" stroke="#8c8c8c" stroke-width="1.0"/>
<line x1="1006.00" y1="172.63" x2="1010.50" y2="172.63" stroke="#8c8c8c" stroke-width="1.0"/>
<line x1="971.00" y1="171.53" x2="975.50" y2="171.53" stroke="#8c8c8c" stroke-width="1.0"/>
<line x1="1006.00" y1="171.53" x2="1010.50" y2="171.53" stroke="#8c8c8c" stroke-width="1.0"/>
<line x1="966.50" y1="170.55" x2="975.50" y2="170.55" stroke="#8c8c8c" stroke-width="1.0"/>
<line x1="1006.00" y1="170.55" x2="1015.00" y2="170.55" stroke="#8c8c8c" stroke-width="1.0"/>
<line x1="971.00" y1="164.09" x2="975.50" y2="164.09" stroke="#8c8c8c" stroke-width="1.0"/>
<line x1="1006.00" y1="164.09" x2="1010.50" y2="164.09" stroke="#8c8c8c" stroke-width="1.0"/>
<line x1="971.00" y1="160.32" x2="975.50" y2="160.32" stroke="#8c8c8c" stroke-width="1.0"/>
<line x1="1006.00" y1="160.32" x2="1010.50" y2="160.32" stroke="#8c8c8c" stroke-width="1.0"/>
<line x1="971.00" y1="157.64" x2="975.50" y2="157.64" stroke="#8c8c8c" stroke-width="1.0"/>
<line x1="1006.00" y1="157.64" x2="1010.50" y2="157.64" stroke="#8c8c8c" stroke-width="1.0"/>
<line x1="971.00" y1="155.56" x2="975.50" y2="155.56" stroke="#8c8c8c" stroke-width="1.0"/>
<line x1="1006.00" y1="155.56" x2="1010.50" y2="155.56" stroke="#8c8c8c" stroke-width="1.0"/>
<line x1="971.00" y1="153.86" x2="975.50" y2="153.86" stroke="#8c8c8c" stroke-width="1.0"/>
<line x1="1006.00" y1="153.86" x2="1010.50" y2="153.86" stroke="#8c8c8c" stroke-width="1.0"/>
<line x1="971.00" y1="152.42" x2="975.50" y2="152.42" stroke="#8c8c8c" stroke-width="1.0"/>
<line x1="1006.00" y1="152.42" x2="1010.50" y2="152.42" stroke="#8c8c8c" stroke-width="1.0"/>
<line x1="971.00" y1="151.18" x2="975.50" y2="151.18" stroke="#8c8c8c" stroke-width="1.0"/>
<line x1="1006.00" y1="151.18" x2="1010.50" y2="151.18" stroke="#8c8c8c" stroke-width="1.0"/>
<line x1="971.00" y1="150.08" x2="975.50" y2="150.08" stroke="#8c8c8c" stroke-width="1.0"/>
<line x1="1006.00" y1="150.08" x2="1010.50" y2="150.08" stroke="#8c8c8c" stroke-width="1.0"/>
<line x1="966.50" y1="149.10" x2="975.50" y2="149.10" stroke="#8c8c8c" stroke-width="1.0"/>
<line x1="1006.00" y1="149.10" x2="1015.00" y2="149.10" stroke="#8c8c8c" stroke-width="1.0"/>
<line x1="971.00" y1="142.64" x2="975.50" y2="142.64" stroke="#8c8c8c" stroke-width="1.0"/>
<line x1="1006.00" y1="142.64" x2="1010.50" y2="142.64" stroke="#8c8c8c" stroke-width="1.0"/>
<line x1="971.00" y1="138.87" x2="975.50" y2="138.87" stroke="#8c8c8c" stroke-width="1.0"/>
<line x1="1006.00" y1="138.87" x2="1010.50" y2="138.87" stroke="#8c8c8c" stroke-width="1.0"/>
<line x1="971.00" y1="136.19" x2="975.50" y2="136.19" stroke="#8c8c8c" stroke-width="1.0"/>
<line x1="1006.00" y1="136.19" x2="1010.50" y2="136.19" stroke="#8c8c8c" stroke-width="1.0"/>
<line x1="971.00" y1="134.11" x2="975.50" y2="134.11" stroke="#8c8c8c" stroke-width="1.0"/>
<line x1="1006.00" y1="134.11" x2="1010.50" y2="134.11" stroke="#8c8c8c" stroke-width="1.0"/>
<line x1="971.00" y1="132.41" x2="975.50" y2="132.41" stroke="#8c8c8c" stroke-width="1.0"/>
<line x1="1006.00" y1="132.41" x2="1010.50" y2="132.41" stroke="#8c8c8c" stroke-width="1.0"/>
<line x1="971.00" y1="130.97" x2="975.50" y2="130.97" stroke="#8c8c8c" stroke-width="1.0"/>
<line x1="1006.00" y1="130.97" x2="1010.50" y2="130.97" stroke="#8c8c8c" stroke-width="1.0"/>
<line x1="971.00" y1="129.73" x2="975.50" y2="129.73" stroke="#8c8c8c" stroke-width="1.0"/>
<line x1="1006.00" y1="129.73" x2="1010.50" y2="129.73" stroke="#8c8c8c" stroke-width="1.0"/>
<line x1="971.00" y1="128.63" x2="975.50" y2="128.63" stroke="#8c8c8c" stroke-width="1.0"/>
<line x1="1006.00" y1="128.63" x2="1010.50" y2="128.63" stroke="#8c8c8c" stroke-width="1.0"/>
<line x1="966.50" y1="127.65" x2="975.50" y2="127.65" stroke="#8c8c8c" stroke-width="1.0"/>
<line x1="1006.00" y1="127.65" x2="1015.00" y2="127.65" stroke="#8c8c8c" stroke-width="1.0"/>
<line x1="971.00" y1="121.19" x2="975.50" y2="121.19" stroke="#8c8c8c" stroke-width="1.0"/>
<line x1="1006.00" y1="121.19" x2="1010.50" y2="121.19" stroke="#8c8c8c" stroke-width="1.0"/>
<line x1="971.00" y1="117.42" x2="975.50" y2="117.42" stroke="#8c8c8c" stroke-width="1.0"/>
<line x1="1006.00" y1="117.42" x2="1010.50" y2="117.42" stroke="#8c8c8c" stroke-width="1.0"/>
<line x1="971.00" y1="114.74" x2="975.50" y2="114.74" stroke="#8c8c8c" stroke-width="1.0"/>
<line x1="1006.00" y1="114.74" x2="1010.50" y2="114.74" stroke="#8c8c8c" stroke-width="1.0"/>
<line x1="971.00" y1="112.66" x2="975.50" y2="112.66" stroke="#8c8c8c" stroke-width="1.0"/>
<line x1="1006.00" y1="112.66" x2="1010.50" y2="112.66" stroke="#8c8c8c" stroke-width="1.0"/>
<line x1="971.00" y1="110.96" x2="975.50" y2="110.96" stroke="#8c8c8c" stroke-width="1.0"/>
<line x1="1006.00" y1="110.96" x2="1010.50" y2="110.96" stroke="#8c8c8c" stroke-width="1.0"/>
<line x1="971.00" y1="109.52" x2="975.50" y2="109.52" stroke="#8c8c8c" stroke-width="1.0"/>
<line x1="1006.00" y1="109.52" x2="1010.50" y2="109.52" stroke="#8c8c8c" stroke-width="1.0"/>
<line x1="971.00" y1="108.28" x2="975.50" y2="108.28" stroke="#8c8c8c" stroke-width="1.0"/>
<line x1="1006.00" y1="108.28" x2="1010.50" y2="108.28" stroke="#8c8c8c" stroke-width="1.0"/>
<line x1="971.00" y1="107.18" x2="975.50" y2="107.18" stroke="#8c8c8c" stroke-width="1.0"/>
<line x1="1006.00" y1="107.18" x2="1010.50" y2="107.18" stroke="#8c8c8c" stroke-width="1.0"/>
<line x1="966.50" y1="106.20" x2="975.50" y2="106.20" stroke="#8c8c8c" stroke-width="1.0"/>
<line x1="1006.00" y1="106.20" x2="1015.00" y2="106.20" stroke="#8c8c8c" stroke-width="1.0"/>
<line x1="971.00" y1="99.74" x2="975.50" y2="99.74" stroke="#8c8c8c" stroke-width="1.0"/>
<line x1="1006.00" y1="99.74" x2="1010.50" y2="99.74" stroke="#8c8c8c" stroke-width="1.0"/>
<line x1="971.00" y1="95.97" x2="975.50" y2="95.97" stroke="#8c8c8c" stroke-width="1.0"/>
<line x1="1006.00" y1="95.97" x2="1010.50" y2="95.97" stroke="#8c8c8c" stroke-width="1.0"/>
<line x1="966.50" y1="192.00" x2="1015.00" y2="192.00" stroke="#8c8c8c" stroke-width="1.2"/>
<line x1="975.50" y1="92.50" x2="975.50" y2="195.00" stroke="#8c8c8c" stroke-width="1.0"/>
<line x1="1006.00" y1="92.50" x2="1006.00" y2="195.00" stroke="#8c8c8c" stroke-width="1.0"/>
<rect x="127.0" y="228.8" width="829.80" height="88.30" fill="none" stroke="#000" stroke-width="1.5"/>
<line x1="115.00" y1="311.60" x2="127.00" y2="311.60" stroke="#000" stroke-width="1.4"/>
<line x1="956.80" y1="311.60" x2="968.80" y2="311.60" stroke="#000" stroke-width="1.4"/>
<line x1="121.00" y1="301.23" x2="127.00" y2="301.23" stroke="#000" stroke-width="1.4"/>
<line x1="956.80" y1="301.23" x2="962.80" y2="301.23" stroke="#000" stroke-width="1.4"/>
<line x1="115.00" y1="290.85" x2="127.00" y2="290.85" stroke="#000" stroke-width="1.4"/>
<line x1="956.80" y1="290.85" x2="968.80" y2="290.85" stroke="#000" stroke-width="1.4"/>
<line x1="121.00" y1="280.48" x2="127.00" y2="280.48" stroke="#000" stroke-width="1.4"/>
<line x1="956.80" y1="280.48" x2="962.80" y2="280.48" stroke="#000" stroke-width="1.4"/>
<line x1="115.00" y1="270.10" x2="127.00" y2="270.10" stroke="#000" stroke-width="1.4"/>
<line x1="956.80" y1="270.10" x2="968.80" y2="270.10" stroke="#000" stroke-width="1.4"/>
<line x1="121.00" y1="259.73" x2="127.00" y2="259.73" stroke="#000" stroke-width="1.4"/>
<line x1="956.80" y1="259.73" x2="962.80" y2="259.73" stroke="#000" stroke-width="1.4"/>
<line x1="115.00" y1="249.35" x2="127.00" y2="249.35" stroke="#000" stroke-width="1.4"/>
<line x1="956.80" y1="249.35" x2="968.80" y2="249.35" stroke="#000" stroke-width="1.4"/>
<line x1="121.00" y1="238.98" x2="127.00" y2="238.98" stroke="#000" stroke-width="1.4"/>
<line x1="956.80" y1="238.98" x2="962.80" y2="238.98" stroke="#000" stroke-width="1.4"/>
<line x1="115.00" y1="228.60" x2="127.00" y2="228.60" stroke="#000" stroke-width="1.4"/>
<line x1="956.80" y1="228.60" x2="968.80" y2="228.60" stroke="#000" stroke-width="1.4"/>
<line x1="161.90" y1="225.50" x2="161.90" y2="228.80" stroke="#000" stroke-width="1.4"/>
<line x1="161.90" y1="317.10" x2="161.90" y2="321.10" stroke="#000" stroke-width="1.4"/>
<line x1="231.00" y1="225.50" x2="231.00" y2="228.80" stroke="#000" stroke-width="1.4"/>
<line x1="231.00" y1="317.10" x2="231.00" y2="321.10" stroke="#000" stroke-width="1.4"/>
<line x1="300.10" y1="225.50" x2="300.10" y2="228.80" stroke="#000" stroke-width="1.4"/>
<line x1="300.10" y1="317.10" x2="300.10" y2="321.10" stroke="#000" stroke-width="1.4"/>
<line x1="369.20" y1="225.50" x2="369.20" y2="228.80" stroke="#000" stroke-width="1.4"/>
<line x1="369.20" y1="317.10" x2="369.20" y2="321.10" stroke="#000" stroke-width="1.4"/>
<line x1="438.30" y1="225.50" x2="438.30" y2="228.80" stroke="#000" stroke-width="1.4"/>
<line x1="438.30" y1="317.10" x2="438.30" y2="321.10" stroke="#000" stroke-width="1.4"/>
<line x1="507.40" y1="225.50" x2="507.40" y2="228.80" stroke="#000" stroke-width="1.4"/>
<line x1="507.40" y1="317.10" x2="507.40" y2="321.10" stroke="#000" stroke-width="1.4"/>
<line x1="576.50" y1="225.50" x2="576.50" y2="228.80" stroke="#000" stroke-width="1.4"/>
<line x1="576.50" y1="317.10" x2="576.50" y2="321.10" stroke="#000" stroke-width="1.4"/>
<line x1="645.60" y1="225.50" x2="645.60" y2="228.80" stroke="#000" stroke-width="1.4"/>
<line x1="645.60" y1="317.10" x2="645.60" y2="321.10" stroke="#000" stroke-width="1.4"/>
<line x1="714.70" y1="225.50" x2="714.70" y2="228.80" stroke="#000" stroke-width="1.4"/>
<line x1="714.70" y1="317.10" x2="714.70" y2="321.10" stroke="#000" stroke-width="1.4"/>
<line x1="783.80" y1="225.50" x2="783.80" y2="228.80" stroke="#000" stroke-width="1.4"/>
<line x1="783.80" y1="317.10" x2="783.80" y2="321.10" stroke="#000" stroke-width="1.4"/>
<line x1="852.90" y1="225.50" x2="852.90" y2="228.80" stroke="#000" stroke-width="1.4"/>
<line x1="852.90" y1="317.10" x2="852.90" y2="321.10" stroke="#000" stroke-width="1.4"/>
<line x1="922.00" y1="225.50" x2="922.00" y2="228.80" stroke="#000" stroke-width="1.4"/>
<line x1="922.00" y1="317.10" x2="922.00" y2="321.10" stroke="#000" stroke-width="1.4"/>
<text x="86.11" y="238.70" font-size="17.0" fill="#000" textLength="17.98" lengthAdjust="spacingAndGlyphs" xml:space="preserve">10</text>
<text x="104.05" y="231.00" font-size="10.5" fill="#000" stroke="#000" stroke-width="0.22" textLength="6.27" lengthAdjust="spacingAndGlyphs" xml:space="preserve">8</text>
<text x="86.11" y="254.70" font-size="17.0" fill="#000" textLength="17.98" lengthAdjust="spacingAndGlyphs" xml:space="preserve">10</text>
<text x="103.92" y="247.70" font-size="10.5" fill="#000" stroke="#000" stroke-width="0.22" textLength="6.41" lengthAdjust="spacingAndGlyphs" xml:space="preserve">6</text>
<text x="86.11" y="276.10" font-size="17.0" fill="#000" textLength="17.98" lengthAdjust="spacingAndGlyphs" xml:space="preserve">10</text>
<text x="104.29" y="268.40" font-size="10.5" fill="#000" stroke="#000" stroke-width="0.22" textLength="5.78" lengthAdjust="spacingAndGlyphs" xml:space="preserve">4</text>
<text x="86.11" y="296.60" font-size="17.0" fill="#000" textLength="17.98" lengthAdjust="spacingAndGlyphs" xml:space="preserve">10</text>
<text x="103.92" y="288.80" font-size="10.5" fill="#000" stroke="#000" stroke-width="0.22" textLength="6.41" lengthAdjust="spacingAndGlyphs" xml:space="preserve">2</text>
<text x="86.11" y="317.10" font-size="17.0" fill="#000" textLength="17.98" lengthAdjust="spacingAndGlyphs" xml:space="preserve">10</text>
<text x="104.06" y="310.00" font-size="10.5" fill="#000" stroke="#000" stroke-width="0.22" textLength="6.14" lengthAdjust="spacingAndGlyphs" xml:space="preserve">0</text>
<circle cx="142.10" cy="276.3" r="1.3" fill="#000"/>
<circle cx="177.12" cy="276.1" r="1.3" fill="#000"/>
<circle cx="212.14" cy="275.8" r="1.3" fill="#000"/>
<circle cx="247.16" cy="276.1" r="1.3" fill="#000"/>
<circle cx="282.18" cy="275.4" r="1.3" fill="#000"/>
<circle cx="317.20" cy="296.3" r="1.3" fill="#000"/>
<circle cx="352.22" cy="276.5" r="1.3" fill="#000"/>
<circle cx="387.24" cy="277" r="1.3" fill="#000"/>
<circle cx="422.26" cy="276.2" r="1.3" fill="#000"/>
<circle cx="457.28" cy="276.2" r="1.3" fill="#000"/>
<circle cx="492.30" cy="276.5" r="1.3" fill="#000"/>
<circle cx="527.32" cy="275.6" r="1.3" fill="#000"/>
<circle cx="562.34" cy="275.3" r="1.3" fill="#000"/>
<circle cx="597.36" cy="277.3" r="1.3" fill="#000"/>
<circle cx="632.38" cy="276.5" r="1.3" fill="#000"/>
<circle cx="667.40" cy="277" r="1.3" fill="#000"/>
<circle cx="702.42" cy="277.3" r="1.3" fill="#000"/>
<circle cx="737.44" cy="276.7" r="1.3" fill="#000"/>
<circle cx="772.46" cy="276.5" r="1.3" fill="#000"/>
<circle cx="807.48" cy="276.5" r="1.3" fill="#000"/>
<circle cx="842.50" cy="275.6" r="1.3" fill="#000"/>
<circle cx="877.52" cy="275.6" r="1.3" fill="#000"/>
<circle cx="912.54" cy="277.3" r="1.3" fill="#000"/>
<circle cx="947.56" cy="275.9" r="1.3" fill="#000"/>
<rect x="127.00" y="327.70" width="829.80" height="88.00" fill="#646464"/>
<rect x="127.00" y="343.80" width="829.80" height="6.10" fill="#00e6ff"/>
<rect x="299.90" y="343.80" width="35.20" height="6.10" fill="#1000f0"/>
<rect x="127.00" y="365.60" width="829.80" height="6.10" fill="#fcf8c8"/>
<rect x="127.00" y="387.80" width="829.80" height="6.10" fill="#00e6ff"/>
<rect x="127.0" y="425.9" width="829.80" height="88.30" fill="none" stroke="#000" stroke-width="1.5"/>
<line x1="121.00" y1="506.90" x2="127.00" y2="506.90" stroke="#000" stroke-width="1.4"/>
<line x1="115.00" y1="494.60" x2="127.00" y2="494.60" stroke="#000" stroke-width="1.4"/>
<line x1="121.00" y1="482.30" x2="127.00" y2="482.30" stroke="#000" stroke-width="1.4"/>
<line x1="115.00" y1="470.00" x2="127.00" y2="470.00" stroke="#000" stroke-width="1.4"/>
<line x1="121.00" y1="457.70" x2="127.00" y2="457.70" stroke="#000" stroke-width="1.4"/>
<line x1="115.00" y1="445.40" x2="127.00" y2="445.40" stroke="#000" stroke-width="1.4"/>
<line x1="121.00" y1="433.10" x2="127.00" y2="433.10" stroke="#000" stroke-width="1.4"/>
<line x1="161.90" y1="422.40" x2="161.90" y2="425.90" stroke="#000" stroke-width="1.4"/>
<line x1="161.90" y1="514.20" x2="161.90" y2="518.20" stroke="#000" stroke-width="1.4"/>
<line x1="231.00" y1="422.40" x2="231.00" y2="425.90" stroke="#000" stroke-width="1.4"/>
<line x1="231.00" y1="514.20" x2="231.00" y2="518.20" stroke="#000" stroke-width="1.4"/>
<line x1="300.10" y1="422.40" x2="300.10" y2="425.90" stroke="#000" stroke-width="1.4"/>
<line x1="300.10" y1="514.20" x2="300.10" y2="518.20" stroke="#000" stroke-width="1.4"/>
<line x1="369.20" y1="422.40" x2="369.20" y2="425.90" stroke="#000" stroke-width="1.4"/>
<line x1="369.20" y1="514.20" x2="369.20" y2="518.20" stroke="#000" stroke-width="1.4"/>
<line x1="438.30" y1="422.40" x2="438.30" y2="425.90" stroke="#000" stroke-width="1.4"/>
<line x1="438.30" y1="514.20" x2="438.30" y2="518.20" stroke="#000" stroke-width="1.4"/>
<line x1="507.40" y1="422.40" x2="507.40" y2="425.90" stroke="#000" stroke-width="1.4"/>
<line x1="507.40" y1="514.20" x2="507.40" y2="518.20" stroke="#000" stroke-width="1.4"/>
<line x1="576.50" y1="422.40" x2="576.50" y2="425.90" stroke="#000" stroke-width="1.4"/>
<line x1="576.50" y1="514.20" x2="576.50" y2="518.20" stroke="#000" stroke-width="1.4"/>
<line x1="645.60" y1="422.40" x2="645.60" y2="425.90" stroke="#000" stroke-width="1.4"/>
<line x1="645.60" y1="514.20" x2="645.60" y2="518.20" stroke="#000" stroke-width="1.4"/>
<line x1="714.70" y1="422.40" x2="714.70" y2="425.90" stroke="#000" stroke-width="1.4"/>
<line x1="714.70" y1="514.20" x2="714.70" y2="518.20" stroke="#000" stroke-width="1.4"/>
<line x1="783.80" y1="422.40" x2="783.80" y2="425.90" stroke="#000" stroke-width="1.4"/>
<line x1="783.80" y1="514.20" x2="783.80" y2="518.20" stroke="#000" stroke-width="1.4"/>
<line x1="852.90" y1="422.40" x2="852.90" y2="425.90" stroke="#000" stroke-width="1.4"/>
<line x1="852.90" y1="514.20" x2="852.90" y2="518.20" stroke="#000" stroke-width="1.4"/>
<line x1="922.00" y1="422.40" x2="922.00" y2="425.90" stroke="#000" stroke-width="1.4"/>
<line x1="922.00" y1="514.20" x2="922.00" y2="518.20" stroke="#000" stroke-width="1.4"/>
<line x1="956.80" y1="425.20" x2="956.80" y2="514.90" stroke="#ff0000" stroke-width="1.6"/>
<line x1="956.80" y1="514.10" x2="962.80" y2="514.10" stroke="#ff0000" stroke-width="1.4"/>
<line x1="956.80" y1="505.28" x2="969.30" y2="505.28" stroke="#ff0000" stroke-width="1.4"/>
<line x1="956.80" y1="496.46" x2="962.80" y2="496.46" stroke="#ff0000" stroke-width="1.4"/>
<line x1="956.80" y1="487.64" x2="969.30" y2="487.64" stroke="#ff0000" stroke-width="1.4"/>
<line x1="956.80" y1="478.82" x2="962.80" y2="478.82" stroke="#ff0000" stroke-width="1.4"/>
<line x1="956.80" y1="470.00" x2="969.30" y2="470.00" stroke="#ff0000" stroke-width="1.4"/>
<line x1="956.80" y1="461.18" x2="962.80" y2="461.18" stroke="#ff0000" stroke-width="1.4"/>
<line x1="956.80" y1="452.36" x2="969.30" y2="452.36" stroke="#ff0000" stroke-width="1.4"/>
<line x1="956.80" y1="443.54" x2="962.80" y2="443.54" stroke="#ff0000" stroke-width="1.4"/>
<line x1="956.80" y1="434.72" x2="969.30" y2="434.72" stroke="#ff0000" stroke-width="1.4"/>
<line x1="956.80" y1="425.90" x2="962.80" y2="425.90" stroke="#ff0000" stroke-width="1.4"/>
<rect x="127.0" y="524.6" width="829.80" height="88.30" fill="none" stroke="#000" stroke-width="1.5"/>
<line x1="121.00" y1="605.25" x2="127.00" y2="605.25" stroke="#000" stroke-width="1.4"/>
<line x1="115.00" y1="592.90" x2="127.00" y2="592.90" stroke="#000" stroke-width="1.4"/>
<line x1="121.00" y1="580.55" x2="127.00" y2="580.55" stroke="#000" stroke-width="1.4"/>
<line x1="115.00" y1="568.20" x2="127.00" y2="568.20" stroke="#000" stroke-width="1.4"/>
<line x1="121.00" y1="555.85" x2="127.00" y2="555.85" stroke="#000" stroke-width="1.4"/>
<line x1="115.00" y1="543.50" x2="127.00" y2="543.50" stroke="#000" stroke-width="1.4"/>
<line x1="121.00" y1="531.15" x2="127.00" y2="531.15" stroke="#000" stroke-width="1.4"/>
<line x1="161.90" y1="521.10" x2="161.90" y2="524.60" stroke="#000" stroke-width="1.4"/>
<line x1="161.90" y1="612.90" x2="161.90" y2="616.90" stroke="#000" stroke-width="1.4"/>
<line x1="231.00" y1="521.10" x2="231.00" y2="524.60" stroke="#000" stroke-width="1.4"/>
<line x1="231.00" y1="612.90" x2="231.00" y2="616.90" stroke="#000" stroke-width="1.4"/>
<line x1="300.10" y1="521.10" x2="300.10" y2="524.60" stroke="#000" stroke-width="1.4"/>
<line x1="300.10" y1="612.90" x2="300.10" y2="616.90" stroke="#000" stroke-width="1.4"/>
<line x1="369.20" y1="521.10" x2="369.20" y2="524.60" stroke="#000" stroke-width="1.4"/>
<line x1="369.20" y1="612.90" x2="369.20" y2="616.90" stroke="#000" stroke-width="1.4"/>
<line x1="438.30" y1="521.10" x2="438.30" y2="524.60" stroke="#000" stroke-width="1.4"/>
<line x1="438.30" y1="612.90" x2="438.30" y2="616.90" stroke="#000" stroke-width="1.4"/>
<line x1="507.40" y1="521.10" x2="507.40" y2="524.60" stroke="#000" stroke-width="1.4"/>
<line x1="507.40" y1="612.90" x2="507.40" y2="616.90" stroke="#000" stroke-width="1.4"/>
<line x1="576.50" y1="521.10" x2="576.50" y2="524.60" stroke="#000" stroke-width="1.4"/>
<line x1="576.50" y1="612.90" x2="576.50" y2="616.90" stroke="#000" stroke-width="1.4"/>
<line x1="645.60" y1="521.10" x2="645.60" y2="524.60" stroke="#000" stroke-width="1.4"/>
<line x1="645.60" y1="612.90" x2="645.60" y2="616.90" stroke="#000" stroke-width="1.4"/>
<line x1="714.70" y1="521.10" x2="714.70" y2="524.60" stroke="#000" stroke-width="1.4"/>
<line x1="714.70" y1="612.90" x2="714.70" y2="616.90" stroke="#000" stroke-width="1.4"/>
<line x1="783.80" y1="521.10" x2="783.80" y2="524.60" stroke="#000" stroke-width="1.4"/>
<line x1="783.80" y1="612.90" x2="783.80" y2="616.90" stroke="#000" stroke-width="1.4"/>
<line x1="852.90" y1="521.10" x2="852.90" y2="524.60" stroke="#000" stroke-width="1.4"/>
<line x1="852.90" y1="612.90" x2="852.90" y2="616.90" stroke="#000" stroke-width="1.4"/>
<line x1="922.00" y1="521.10" x2="922.00" y2="524.60" stroke="#000" stroke-width="1.4"/>
<line x1="922.00" y1="612.90" x2="922.00" y2="616.90" stroke="#000" stroke-width="1.4"/>
<line x1="956.80" y1="523.90" x2="956.80" y2="613.60" stroke="#ff0000" stroke-width="1.6"/>
<line x1="956.80" y1="612.30" x2="962.80" y2="612.30" stroke="#ff0000" stroke-width="1.4"/>
<line x1="956.80" y1="603.48" x2="969.30" y2="603.48" stroke="#ff0000" stroke-width="1.4"/>
<line x1="956.80" y1="594.66" x2="962.80" y2="594.66" stroke="#ff0000" stroke-width="1.4"/>
<line x1="956.80" y1="585.84" x2="969.30" y2="585.84" stroke="#ff0000" stroke-width="1.4"/>
<line x1="956.80" y1="577.02" x2="962.80" y2="577.02" stroke="#ff0000" stroke-width="1.4"/>
<line x1="956.80" y1="568.20" x2="969.30" y2="568.20" stroke="#ff0000" stroke-width="1.4"/>
<line x1="956.80" y1="559.38" x2="962.80" y2="559.38" stroke="#ff0000" stroke-width="1.4"/>
<line x1="956.80" y1="550.56" x2="969.30" y2="550.56" stroke="#ff0000" stroke-width="1.4"/>
<line x1="956.80" y1="541.74" x2="962.80" y2="541.74" stroke="#ff0000" stroke-width="1.4"/>
<line x1="956.80" y1="532.92" x2="969.30" y2="532.92" stroke="#ff0000" stroke-width="1.4"/>
<line x1="956.80" y1="524.10" x2="962.80" y2="524.10" stroke="#ff0000" stroke-width="1.4"/>
<rect x="127.0" y="622.9" width="829.80" height="88.30" fill="none" stroke="#000" stroke-width="1.5"/>
<line x1="115.00" y1="711.20" x2="127.00" y2="711.20" stroke="#000" stroke-width="1.4"/>
<line x1="121.00" y1="697.60" x2="127.00" y2="697.60" stroke="#000" stroke-width="1.4"/>
<line x1="115.00" y1="684.00" x2="127.00" y2="684.00" stroke="#000" stroke-width="1.4"/>
<line x1="121.00" y1="670.40" x2="127.00" y2="670.40" stroke="#000" stroke-width="1.4"/>
<line x1="115.00" y1="656.80" x2="127.00" y2="656.80" stroke="#000" stroke-width="1.4"/>
<line x1="121.00" y1="643.20" x2="127.00" y2="643.20" stroke="#000" stroke-width="1.4"/>
<line x1="115.00" y1="629.60" x2="127.00" y2="629.60" stroke="#000" stroke-width="1.4"/>
<line x1="161.90" y1="619.40" x2="161.90" y2="622.90" stroke="#000" stroke-width="1.4"/>
<line x1="161.90" y1="711.20" x2="161.90" y2="715.20" stroke="#000" stroke-width="1.4"/>
<line x1="231.00" y1="619.40" x2="231.00" y2="622.90" stroke="#000" stroke-width="1.4"/>
<line x1="231.00" y1="711.20" x2="231.00" y2="715.20" stroke="#000" stroke-width="1.4"/>
<line x1="300.10" y1="619.40" x2="300.10" y2="622.90" stroke="#000" stroke-width="1.4"/>
<line x1="300.10" y1="711.20" x2="300.10" y2="715.20" stroke="#000" stroke-width="1.4"/>
<line x1="369.20" y1="619.40" x2="369.20" y2="622.90" stroke="#000" stroke-width="1.4"/>
<line x1="369.20" y1="711.20" x2="369.20" y2="715.20" stroke="#000" stroke-width="1.4"/>
<line x1="438.30" y1="619.40" x2="438.30" y2="622.90" stroke="#000" stroke-width="1.4"/>
<line x1="438.30" y1="711.20" x2="438.30" y2="715.20" stroke="#000" stroke-width="1.4"/>
<line x1="507.40" y1="619.40" x2="507.40" y2="622.90" stroke="#000" stroke-width="1.4"/>
<line x1="507.40" y1="711.20" x2="507.40" y2="715.20" stroke="#000" stroke-width="1.4"/>
<line x1="576.50" y1="619.40" x2="576.50" y2="622.90" stroke="#000" stroke-width="1.4"/>
<line x1="576.50" y1="711.20" x2="576.50" y2="715.20" stroke="#000" stroke-width="1.4"/>
<line x1="645.60" y1="619.40" x2="645.60" y2="622.90" stroke="#000" stroke-width="1.4"/>
<line x1="645.60" y1="711.20" x2="645.60" y2="715.20" stroke="#000" stroke-width="1.4"/>
<line x1="714.70" y1="619.40" x2="714.70" y2="622.90" stroke="#000" stroke-width="1.4"/>
<line x1="714.70" y1="711.20" x2="714.70" y2="715.20" stroke="#000" stroke-width="1.4"/>
<line x1="783.80" y1="619.40" x2="783.80" y2="622.90" stroke="#000" stroke-width="1.4"/>
<line x1="783.80" y1="711.20" x2="783.80" y2="715.20" stroke="#000" stroke-width="1.4"/>
<line x1="852.90" y1="619.40" x2="852.90" y2="622.90" stroke="#000" stroke-width="1.4"/>
<line x1="852.90" y1="711.20" x2="852.90" y2="715.20" stroke="#000" stroke-width="1.4"/>
<line x1="922.00" y1="619.40" x2="922.00" y2="622.90" stroke="#000" stroke-width="1.4"/>
<line x1="922.00" y1="711.20" x2="922.00" y2="715.20" stroke="#000" stroke-width="1.4"/>
<line x1="956.80" y1="622.20" x2="956.80" y2="711.90" stroke="#ff0000" stroke-width="1.6"/>
<line x1="956.80" y1="711.20" x2="969.30" y2="711.20" stroke="#ff0000" stroke-width="1.4"/>
<line x1="956.80" y1="698.65" x2="962.80" y2="698.65" stroke="#ff0000" stroke-width="1.4"/>
<line x1="956.80" y1="686.10" x2="969.30" y2="686.10" stroke="#ff0000" stroke-width="1.4"/>
<line x1="956.80" y1="673.55" x2="962.80" y2="673.55" stroke="#ff0000" stroke-width="1.4"/>
<line x1="956.80" y1="661.00" x2="969.30" y2="661.00" stroke="#ff0000" stroke-width="1.4"/>
<line x1="956.80" y1="648.45" x2="962.80" y2="648.45" stroke="#ff0000" stroke-width="1.4"/>
<line x1="956.80" y1="635.90" x2="969.30" y2="635.90" stroke="#ff0000" stroke-width="1.4"/>
<line x1="956.80" y1="623.35" x2="962.80" y2="623.35" stroke="#ff0000" stroke-width="1.4"/>
<line x1="127.00" y1="704.50" x2="956.80" y2="704.50" stroke="#ff0000" stroke-width="1.5"/>
<line x1="127.00" y1="709.60" x2="956.80" y2="709.60" stroke="#000" stroke-width="1.6"/>
<ellipse cx="142.20" cy="470.4" rx="1.75" ry="1.75" fill="#ff0000"/>
<ellipse cx="142.20" cy="569.2" rx="1.75" ry="1.75" fill="#ff0000"/>
<ellipse cx="177.20" cy="470.0" rx="1.75" ry="2.2" fill="#ff0000"/>
<ellipse cx="177.20" cy="568.9" rx="1.75" ry="2.2" fill="#ff0000"/>
<ellipse cx="212.20" cy="470.0" rx="1.75" ry="2.2" fill="#ff0000"/>
<ellipse cx="212.20" cy="568.9" rx="1.75" ry="2.2" fill="#ff0000"/>
<ellipse cx="247.20" cy="470.0" rx="1.75" ry="2.2" fill="#ff0000"/>
<ellipse cx="247.20" cy="568.9" rx="1.75" ry="2.2" fill="#ff0000"/>
<ellipse cx="282.20" cy="470.0" rx="1.75" ry="2.2" fill="#ff0000"/>
<ellipse cx="282.20" cy="568.9" rx="1.75" ry="2.2" fill="#ff0000"/>
<ellipse cx="317.20" cy="470.0" rx="1.75" ry="2.2" fill="#ff0000"/>
<ellipse cx="317.20" cy="568.9" rx="1.75" ry="2.2" fill="#ff0000"/>
<ellipse cx="352.20" cy="470.0" rx="1.75" ry="2.2" fill="#ff0000"/>
<ellipse cx="352.20" cy="568.9" rx="1.75" ry="2.2" fill="#ff0000"/>
<ellipse cx="387.20" cy="470.0" rx="1.75" ry="2.2" fill="#ff0000"/>
<ellipse cx="387.20" cy="568.9" rx="1.75" ry="2.2" fill="#ff0000"/>
<ellipse cx="422.20" cy="470.0" rx="1.75" ry="2.2" fill="#ff0000"/>
<ellipse cx="422.20" cy="568.9" rx="1.75" ry="2.2" fill="#ff0000"/>
<ellipse cx="457.20" cy="470.0" rx="1.75" ry="2.2" fill="#ff0000"/>
<ellipse cx="457.20" cy="568.9" rx="1.75" ry="2.2" fill="#ff0000"/>
<ellipse cx="492.20" cy="470.0" rx="1.75" ry="2.2" fill="#ff0000"/>
<ellipse cx="492.20" cy="568.9" rx="1.75" ry="2.2" fill="#ff0000"/>
<ellipse cx="527.20" cy="470.0" rx="1.75" ry="2.2" fill="#ff0000"/>
<ellipse cx="527.20" cy="568.9" rx="1.75" ry="2.2" fill="#ff0000"/>
<ellipse cx="562.20" cy="470.0" rx="1.75" ry="2.2" fill="#ff0000"/>
<ellipse cx="562.20" cy="568.9" rx="1.75" ry="2.2" fill="#ff0000"/>
<ellipse cx="597.20" cy="470.0" rx="1.75" ry="2.2" fill="#ff0000"/>
<ellipse cx="597.20" cy="568.9" rx="1.75" ry="2.2" fill="#ff0000"/>
<ellipse cx="632.20" cy="470.0" rx="1.75" ry="2.2" fill="#ff0000"/>
<ellipse cx="632.20" cy="568.9" rx="1.75" ry="2.2" fill="#ff0000"/>
<ellipse cx="667.20" cy="470.0" rx="1.75" ry="2.2" fill="#ff0000"/>
<ellipse cx="667.20" cy="568.9" rx="1.75" ry="2.2" fill="#ff0000"/>
<ellipse cx="702.20" cy="470.0" rx="1.75" ry="2.2" fill="#ff0000"/>
<ellipse cx="702.20" cy="568.9" rx="1.75" ry="2.2" fill="#ff0000"/>
<ellipse cx="737.20" cy="470.0" rx="1.75" ry="2.2" fill="#ff0000"/>
<ellipse cx="737.20" cy="568.9" rx="1.75" ry="2.2" fill="#ff0000"/>
<ellipse cx="772.20" cy="470.0" rx="1.75" ry="2.2" fill="#ff0000"/>
<ellipse cx="772.20" cy="568.9" rx="1.75" ry="2.2" fill="#ff0000"/>
<ellipse cx="807.20" cy="470.0" rx="1.75" ry="2.2" fill="#ff0000"/>
<ellipse cx="807.20" cy="568.9" rx="1.75" ry="2.2" fill="#ff0000"/>
<ellipse cx="842.20" cy="470.0" rx="1.75" ry="2.2" fill="#ff0000"/>
<ellipse cx="842.20" cy="568.9" rx="1.75" ry="2.2" fill="#ff0000"/>
<ellipse cx="877.20" cy="470.0" rx="1.75" ry="2.2" fill="#ff0000"/>
<ellipse cx="877.20" cy="568.9" rx="1.75" ry="2.2" fill="#ff0000"/>
<ellipse cx="912.20" cy="470.0" rx="1.75" ry="2.2" fill="#ff0000"/>
<ellipse cx="912.20" cy="568.9" rx="1.75" ry="2.2" fill="#ff0000"/>
<ellipse cx="947.20" cy="470.0" rx="1.75" ry="2.2" fill="#ff0000"/>
<ellipse cx="947.20" cy="568.9" rx="1.75" ry="2.2" fill="#ff0000"/>
<text x="973.32" y="440.72" font-size="17.0" fill="#ff0000" textLength="9.46" lengthAdjust="spacingAndGlyphs" xml:space="preserve">8</text>
<text x="973.32" y="538.92" font-size="17.0" fill="#ff0000" textLength="9.46" lengthAdjust="spacingAndGlyphs" xml:space="preserve">8</text>
<text x="973.66" y="458.36" font-size="17.0" fill="#ff0000" textLength="9.46" lengthAdjust="spacingAndGlyphs" xml:space="preserve">4</text>
<text x="973.66" y="556.56" font-size="17.0" fill="#ff0000" textLength="9.46" lengthAdjust="spacingAndGlyphs" xml:space="preserve">4</text>
<text x="973.32" y="476.00" font-size="17.0" fill="#ff0000" textLength="9.46" lengthAdjust="spacingAndGlyphs" xml:space="preserve">0</text>
<text x="973.32" y="574.20" font-size="17.0" fill="#ff0000" textLength="9.46" lengthAdjust="spacingAndGlyphs" xml:space="preserve">0</text>
<text x="973.32" y="493.64" font-size="17.0" fill="#ff0000" textLength="15.12" lengthAdjust="spacingAndGlyphs" xml:space="preserve">-4</text>
<text x="973.32" y="591.84" font-size="17.0" fill="#ff0000" textLength="15.12" lengthAdjust="spacingAndGlyphs" xml:space="preserve">-4</text>
<text x="973.32" y="511.28" font-size="17.0" fill="#ff0000" textLength="15.12" lengthAdjust="spacingAndGlyphs" xml:space="preserve">-8</text>
<text x="973.32" y="609.48" font-size="17.0" fill="#ff0000" textLength="15.12" lengthAdjust="spacingAndGlyphs" xml:space="preserve">-8</text>
<text x="973.76" y="641.20" font-size="16.0" fill="#ff0000" textLength="8.90" lengthAdjust="spacingAndGlyphs" xml:space="preserve">3</text>
<text x="973.60" y="665.90" font-size="16.0" fill="#ff0000" textLength="8.90" lengthAdjust="spacingAndGlyphs" xml:space="preserve">2</text>
<text x="973.12" y="691.20" font-size="16.0" fill="#ff0000" textLength="8.90" lengthAdjust="spacingAndGlyphs" xml:space="preserve">1</text>
<text x="973.76" y="711.20" font-size="16.0" fill="#ff0000" textLength="8.90" lengthAdjust="spacingAndGlyphs" xml:space="preserve">0</text>
<text x="347.06" y="37.70" font-size="17.4" fill="#000" textLength="395.32" lengthAdjust="spacingAndGlyphs" xml:space="preserve">New Horizons Solar Wind Around Pluto (SWAP) Data</text>
<text x="126.93" y="54.60" font-size="17.4" fill="#000" textLength="454.87" lengthAdjust="spacingAndGlyphs" xml:space="preserve">01/19/2021 (019) 23:59:42 to 01/21/2021 (021) 00:00:02 UTC</text>
<text x="73.19" y="125.00" font-size="17.0" fill="#000" textLength="36.44" lengthAdjust="spacingAndGlyphs" xml:space="preserve">1000</text>
<text x="82.29" y="184.10" font-size="17.0" fill="#000" textLength="27.24" lengthAdjust="spacingAndGlyphs" xml:space="preserve">100</text>
<text x="977.73" y="75.60" font-size="16.7" fill="#000" textLength="38.29" lengthAdjust="spacingAndGlyphs" xml:space="preserve">COIN</text>
<text x="981.72" y="87.60" font-size="15.0" fill="#000" textLength="27.32" lengthAdjust="spacingAndGlyphs" xml:space="preserve">[Hz]</text>
<text x="1018.06" y="110.00" font-size="11.6" fill="#000" stroke="#000" stroke-width="0.22" textLength="42.47" lengthAdjust="spacingAndGlyphs" xml:space="preserve">10000.0</text>
<text x="1018.26" y="131.50" font-size="11.6" fill="#000" stroke="#000" stroke-width="0.22" textLength="36.00" lengthAdjust="spacingAndGlyphs" xml:space="preserve">1000.0</text>
<text x="1018.27" y="153.20" font-size="11.6" fill="#000" stroke="#000" stroke-width="0.22" textLength="29.23" lengthAdjust="spacingAndGlyphs" xml:space="preserve">100.0</text>
<text x="1018.27" y="174.20" font-size="11.6" fill="#000" stroke="#000" stroke-width="0.22" textLength="22.65" lengthAdjust="spacingAndGlyphs" xml:space="preserve">10.0</text>
<text x="1018.27" y="191.80" font-size="11.6" fill="#000" stroke="#000" stroke-width="0.22" textLength="16.20" lengthAdjust="spacingAndGlyphs" xml:space="preserve">1.0</text>
<text x="967.60" y="331.50" font-size="11.9" fill="#000" stroke="#000" stroke-width="0.22" textLength="37.35" lengthAdjust="spacingAndGlyphs" xml:space="preserve">Optical</text>
<text x="978.73" y="339.70" font-size="11.0" fill="#00e5ff" stroke="#00e5ff" stroke-width="0.22" textLength="21.78" lengthAdjust="spacingAndGlyphs" xml:space="preserve">ESA</text>
<text x="978.72" y="348.30" font-size="11.0" fill="#ff0000" stroke="#ff0000" stroke-width="0.22" textLength="68.01" lengthAdjust="spacingAndGlyphs" xml:space="preserve">RPA and ESA</text>
<text x="978.73" y="356.50" font-size="11.0" fill="#1c1cff" stroke="#1c1cff" stroke-width="0.22" textLength="66.05" lengthAdjust="spacingAndGlyphs" xml:space="preserve">DFL and ESA</text>
<text x="967.61" y="370.60" font-size="11.9" fill="#000" stroke="#000" stroke-width="0.22" textLength="56.09" lengthAdjust="spacingAndGlyphs" xml:space="preserve">Calibration</text>
<text x="978.65" y="379.60" font-size="11.0" fill="#ff0000" stroke="#ff0000" stroke-width="0.22" textLength="23.34" lengthAdjust="spacingAndGlyphs" xml:space="preserve">Gain</text>
<text x="979.20" y="387.90" font-size="11.0" fill="#00e5ff" stroke="#00e5ff" stroke-width="0.22" textLength="27.51" lengthAdjust="spacingAndGlyphs" xml:space="preserve">Angle</text>
<text x="967.24" y="400.60" font-size="11.9" fill="#000" stroke="#000" stroke-width="0.22" textLength="30.06" lengthAdjust="spacingAndGlyphs" xml:space="preserve">Mode</text>
<text x="978.70" y="408.80" font-size="11.0" fill="#00e5ff" stroke="#00e5ff" stroke-width="0.22" textLength="34.38" lengthAdjust="spacingAndGlyphs" xml:space="preserve">HVSCI</text>
<text x="978.71" y="417.40" font-size="11.0" fill="#ff0000" stroke="#ff0000" stroke-width="0.22" textLength="39.43" lengthAdjust="spacingAndGlyphs" xml:space="preserve">HVENG</text>
<text x="91.31" y="451.30" font-size="16.5" fill="#000" textLength="19.12" lengthAdjust="spacingAndGlyphs" xml:space="preserve">50</text>
<text x="101.25" y="475.60" font-size="16.5" fill="#000" textLength="9.04" lengthAdjust="spacingAndGlyphs" xml:space="preserve">0</text>
<text x="86.34" y="500.30" font-size="16.5" fill="#000" textLength="23.95" lengthAdjust="spacingAndGlyphs" xml:space="preserve">-50</text>
<text x="82.48" y="550.00" font-size="16.2" fill="#000" textLength="27.56" lengthAdjust="spacingAndGlyphs" xml:space="preserve">100</text>
<text x="100.73" y="574.10" font-size="16.2" fill="#000" textLength="9.27" lengthAdjust="spacingAndGlyphs" xml:space="preserve">0</text>
<text x="76.73" y="598.80" font-size="16.2" fill="#000" textLength="33.36" lengthAdjust="spacingAndGlyphs" xml:space="preserve">-100</text>
<text x="91.31" y="635.30" font-size="16.2" fill="#000" textLength="19.30" lengthAdjust="spacingAndGlyphs" xml:space="preserve">12</text>
<text x="101.44" y="662.60" font-size="16.2" fill="#000" textLength="9.01" lengthAdjust="spacingAndGlyphs" xml:space="preserve">8</text>
<text x="101.11" y="690.10" font-size="16.2" fill="#000" textLength="9.01" lengthAdjust="spacingAndGlyphs" xml:space="preserve">4</text>
<text x="101.28" y="711.30" font-size="16.2" fill="#000" textLength="9.01" lengthAdjust="spacingAndGlyphs" xml:space="preserve">0</text>
<text x="44.29" y="734.60" font-size="14.8" fill="#000" textLength="31.94" lengthAdjust="spacingAndGlyphs" xml:space="preserve">HRS</text>
<text x="44.33" y="746.80" font-size="14.8" fill="#000" textLength="31.66" lengthAdjust="spacingAndGlyphs" xml:space="preserve">DOY</text>
<text x="44.30" y="759.40" font-size="14.8" fill="#000" textLength="50.93" lengthAdjust="spacingAndGlyphs" xml:space="preserve">MM/DD</text>
<text x="45.50" y="772.00" font-size="14.8" fill="#000" textLength="19.62" lengthAdjust="spacingAndGlyphs" xml:space="preserve">AU</text>
<text x="83.01" y="801.80" font-size="11.6" fill="#000" stroke="#000" stroke-width="0.22" textLength="329.78" lengthAdjust="spacingAndGlyphs" xml:space="preserve">Software Version:  ' 4.00000'  Processed: 2022-05-06T20:30:23</text>
<text x="82.66" y="818.70" font-size="11.6" fill="#000" stroke="#000" stroke-width="0.22" textLength="208.68" lengthAdjust="spacingAndGlyphs" xml:space="preserve">Plot Created: Sun Jun 12 14:59:08 2022</text>
<text x="82.67" y="835.70" font-size="11.6" fill="#000" stroke="#000" stroke-width="0.22" textLength="319.24" lengthAdjust="spacingAndGlyphs" xml:space="preserve">Files: 0473385600_0x584_sci.fit to 0473558400_0x584_sci.fit</text>
<text x="572.11" y="801.80" font-size="11.6" fill="#000" stroke="#000" stroke-width="0.22" textLength="266.44" lengthAdjust="spacingAndGlyphs" xml:space="preserve">Spectrogram Timing Accurate to Within: 20.00 [sec]</text>
<text x="571.76" y="818.70" font-size="11.6" fill="#000" stroke="#000" stroke-width="0.22" textLength="148.60" lengthAdjust="spacingAndGlyphs" xml:space="preserve">Plot Width:: 0.754545 [norm]</text>
<text x="571.76" y="835.70" font-size="11.6" fill="#000" stroke="#000" stroke-width="0.22" textLength="114.60" lengthAdjust="spacingAndGlyphs" xml:space="preserve">Plot Width: 8.3000 [in]</text>
<text transform="translate(60.40,200.93) rotate(-90)" x="0" y="0" font-size="17.5" fill="#000" textLength="117.97" lengthAdjust="spacingAndGlyphs" xml:space="preserve">Energy/Q [eV/q]</text>
<text transform="translate(59.50,309.72) rotate(-90)" x="0" y="0" font-size="17.3" fill="#000" textLength="73.19" lengthAdjust="spacingAndGlyphs" xml:space="preserve">Coin Rate</text>
<text transform="translate(73.10,309.13) rotate(-90)" x="0" y="0" font-size="16.7" fill="#000" textLength="74.32" lengthAdjust="spacingAndGlyphs" xml:space="preserve">ΣR(E)[Hz]</text>
<text transform="translate(59.10,507.93) rotate(-90)" x="0" y="0" font-size="16.8" fill="#000" textLength="76.07" lengthAdjust="spacingAndGlyphs" xml:space="preserve">Sun Theta</text>
<text transform="translate(73.20,511.20) rotate(-90)" x="0" y="0" font-size="16.8" fill="#000" textLength="83.55" lengthAdjust="spacingAndGlyphs" xml:space="preserve">Angle [deg]</text>
<text transform="translate(50.30,598.44) rotate(-90)" x="0" y="0" font-size="17.3" fill="#000" textLength="59.07" lengthAdjust="spacingAndGlyphs" xml:space="preserve">Sun Phi</text>
<text transform="translate(63.80,610.00) rotate(-90)" x="0" y="0" font-size="17.3" fill="#000" textLength="83.55" lengthAdjust="spacingAndGlyphs" xml:space="preserve">Angle [deg]</text>
<text transform="translate(51.20,698.72) rotate(-90)" x="0" y="0" font-size="17.5" fill="#000" textLength="63.26" lengthAdjust="spacingAndGlyphs" xml:space="preserve">Sun-SC-</text>
<text transform="translate(65.30,710.43) rotate(-90)" x="0" y="0" font-size="17.5" fill="#000" textLength="86.11" lengthAdjust="spacingAndGlyphs" xml:space="preserve">Earth Angle</text>
<text transform="translate(79.40,686.19) rotate(-90)" x="0" y="0" font-size="17.5" fill="#000" textLength="37.75" lengthAdjust="spacingAndGlyphs" xml:space="preserve">[deg]</text>
<text transform="translate(1003.50,508.43) rotate(-90)" x="0" y="0" font-size="17.3" fill="#ff0000" textLength="76.57" lengthAdjust="spacingAndGlyphs" xml:space="preserve">Sun Theta</text>
<text transform="translate(1017.60,511.20) rotate(-90)" x="0" y="0" font-size="17.3" fill="#ff0000" textLength="83.55" lengthAdjust="spacingAndGlyphs" xml:space="preserve">Angle [deg]</text>
<text transform="translate(1003.50,597.83) rotate(-90)" x="0" y="0" font-size="17.3" fill="#ff0000" textLength="58.44" lengthAdjust="spacingAndGlyphs" xml:space="preserve">Sun Phi</text>
<text transform="translate(1017.60,610.00) rotate(-90)" x="0" y="0" font-size="17.3" fill="#ff0000" textLength="83.55" lengthAdjust="spacingAndGlyphs" xml:space="preserve">Angle [deg]</text>
<text transform="translate(998.00,699.02) rotate(-90)" x="0" y="0" font-size="17.5" fill="#ff0000" textLength="63.26" lengthAdjust="spacingAndGlyphs" xml:space="preserve">Sun-SC-</text>
<text transform="translate(1012.00,710.13) rotate(-90)" x="0" y="0" font-size="17.5" fill="#ff0000" textLength="86.11" lengthAdjust="spacingAndGlyphs" xml:space="preserve">Earth Angle</text>
<text transform="translate(1025.50,685.25) rotate(-90)" x="0" y="0" font-size="17.5" fill="#ff0000" textLength="36.46" lengthAdjust="spacingAndGlyphs" xml:space="preserve">[deg]</text>
<text x="153.30" y="733.90" font-size="15.6" fill="#000" textLength="16.57" lengthAdjust="spacingAndGlyphs" xml:space="preserve">01</text>
<text x="222.33" y="733.90" font-size="15.6" fill="#000" textLength="16.57" lengthAdjust="spacingAndGlyphs" xml:space="preserve">03</text>
<text x="291.43" y="733.90" font-size="15.6" fill="#000" textLength="16.57" lengthAdjust="spacingAndGlyphs" xml:space="preserve">05</text>
<text x="360.60" y="733.90" font-size="15.6" fill="#000" textLength="16.57" lengthAdjust="spacingAndGlyphs" xml:space="preserve">07</text>
<text x="429.70" y="733.90" font-size="15.6" fill="#000" textLength="16.57" lengthAdjust="spacingAndGlyphs" xml:space="preserve">09</text>
<text x="499.03" y="733.90" font-size="15.6" fill="#000" textLength="15.47" lengthAdjust="spacingAndGlyphs" xml:space="preserve">11</text>
<text x="567.53" y="733.90" font-size="15.6" fill="#000" textLength="16.57" lengthAdjust="spacingAndGlyphs" xml:space="preserve">13</text>
<text x="636.63" y="733.90" font-size="15.6" fill="#000" textLength="16.57" lengthAdjust="spacingAndGlyphs" xml:space="preserve">15</text>
<text x="705.81" y="733.90" font-size="15.6" fill="#000" textLength="16.57" lengthAdjust="spacingAndGlyphs" xml:space="preserve">17</text>
<text x="774.91" y="733.90" font-size="15.6" fill="#000" textLength="16.57" lengthAdjust="spacingAndGlyphs" xml:space="preserve">19</text>
<text x="844.23" y="733.90" font-size="15.6" fill="#000" textLength="16.57" lengthAdjust="spacingAndGlyphs" xml:space="preserve">21</text>
<text x="913.26" y="733.90" font-size="15.6" fill="#000" textLength="16.57" lengthAdjust="spacingAndGlyphs" xml:space="preserve">23</text>
<text x="149.16" y="746.50" font-size="15.6" fill="#000" textLength="24.86" lengthAdjust="spacingAndGlyphs" xml:space="preserve">020</text>
<text x="143.17" y="758.80" font-size="15.6" fill="#000" textLength="37.29" lengthAdjust="spacingAndGlyphs" xml:space="preserve">01/20</text>
<text x="840.16" y="746.50" font-size="15.6" fill="#000" textLength="24.86" lengthAdjust="spacingAndGlyphs" xml:space="preserve">020</text>
<text x="834.17" y="758.80" font-size="15.6" fill="#000" textLength="37.29" lengthAdjust="spacingAndGlyphs" xml:space="preserve">01/20</text>
<text x="277.53" y="771.60" font-size="15.8" fill="#000" textLength="45.57" lengthAdjust="spacingAndGlyphs" xml:space="preserve">49.303</text>
<text x="484.75" y="771.60" font-size="15.8" fill="#000" textLength="45.57" lengthAdjust="spacingAndGlyphs" xml:space="preserve">49.305</text>
<text x="692.13" y="771.60" font-size="15.8" fill="#000" textLength="45.57" lengthAdjust="spacingAndGlyphs" xml:space="preserve">49.307</text>
<text x="899.43" y="771.60" font-size="15.8" fill="#000" textLength="45.57" lengthAdjust="spacingAndGlyphs" xml:space="preserve">49.309</text>
</svg></body></html>
